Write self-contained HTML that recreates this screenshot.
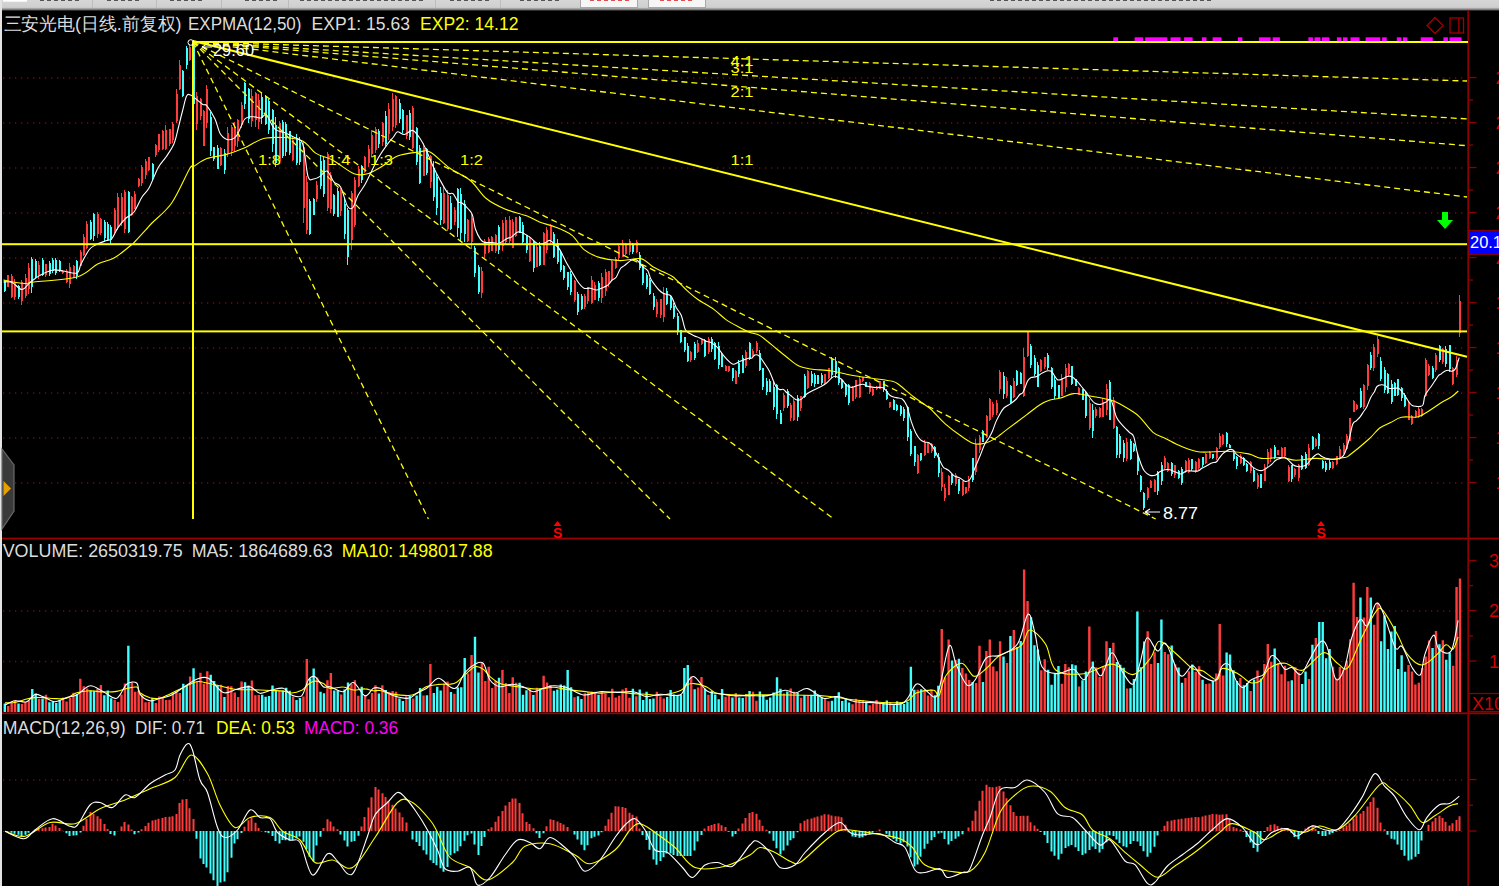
<!DOCTYPE html>
<html><head><meta charset="utf-8"><style>
html,body{margin:0;padding:0;background:#000;width:1499px;height:886px;overflow:hidden;position:relative}
</style></head><body>
<svg width="1499" height="886" viewBox="0 0 1499 886" style="position:absolute;left:0;top:0"><defs><linearGradient id="tb" x1="0" y1="0" x2="0" y2="1"><stop offset="0" stop-color="#d6d6d6"/><stop offset="0.7" stop-color="#cfcfcf"/><stop offset="1" stop-color="#5a5a5a"/></linearGradient></defs><rect x="0" y="0" width="1499" height="886" fill="#000"/><rect x="0" y="0" width="1499" height="10.5" fill="url(#tb)"/><rect x="3" y="0" width="24" height="1.7" fill="#fff"/><rect x="580.5" y="-1" width="57" height="8.5" fill="#f6f6f6" stroke="#a8a8a8" stroke-width="1"/><rect x="648.5" y="-1" width="57" height="8.5" fill="#f6f6f6" stroke="#a8a8a8" stroke-width="1"/><rect x="92" y="0" width="1" height="8" fill="#bcbcbc"/><rect x="156" y="0" width="1" height="8" fill="#bcbcbc"/><rect x="221" y="0" width="1" height="8" fill="#bcbcbc"/><rect x="288" y="0" width="1" height="8" fill="#bcbcbc"/><rect x="435" y="0" width="1" height="8" fill="#bcbcbc"/><rect x="500" y="0" width="1" height="8" fill="#bcbcbc"/><rect x="40" y="0" width="4" height="1" fill="#555"/><rect x="47" y="0" width="4" height="1" fill="#555"/><rect x="54" y="0" width="4" height="1" fill="#555"/><rect x="61" y="0" width="4" height="1" fill="#555"/><rect x="68" y="0" width="4" height="1" fill="#555"/><rect x="75" y="0" width="4" height="1" fill="#555"/><rect x="107" y="0" width="4" height="1" fill="#555"/><rect x="114" y="0" width="4" height="1" fill="#555"/><rect x="121" y="0" width="4" height="1" fill="#555"/><rect x="128" y="0" width="4" height="1" fill="#555"/><rect x="135" y="0" width="4" height="1" fill="#555"/><rect x="170" y="0" width="4" height="1" fill="#555"/><rect x="177" y="0" width="4" height="1" fill="#555"/><rect x="184" y="0" width="4" height="1" fill="#555"/><rect x="191" y="0" width="4" height="1" fill="#555"/><rect x="198" y="0" width="4" height="1" fill="#555"/><rect x="245" y="0" width="4" height="1" fill="#555"/><rect x="252" y="0" width="4" height="1" fill="#555"/><rect x="259" y="0" width="4" height="1" fill="#555"/><rect x="266" y="0" width="4" height="1" fill="#555"/><rect x="273" y="0" width="4" height="1" fill="#555"/><rect x="300" y="0" width="4" height="1" fill="#555"/><rect x="307" y="0" width="4" height="1" fill="#555"/><rect x="314" y="0" width="4" height="1" fill="#555"/><rect x="321" y="0" width="4" height="1" fill="#555"/><rect x="328" y="0" width="4" height="1" fill="#555"/><rect x="335" y="0" width="4" height="1" fill="#555"/><rect x="342" y="0" width="4" height="1" fill="#555"/><rect x="349" y="0" width="4" height="1" fill="#555"/><rect x="356" y="0" width="4" height="1" fill="#555"/><rect x="363" y="0" width="4" height="1" fill="#555"/><rect x="370" y="0" width="4" height="1" fill="#555"/><rect x="377" y="0" width="4" height="1" fill="#555"/><rect x="384" y="0" width="4" height="1" fill="#555"/><rect x="391" y="0" width="4" height="1" fill="#555"/><rect x="398" y="0" width="4" height="1" fill="#555"/><rect x="405" y="0" width="4" height="1" fill="#555"/><rect x="412" y="0" width="4" height="1" fill="#555"/><rect x="419" y="0" width="4" height="1" fill="#555"/><rect x="450" y="0" width="4" height="1" fill="#555"/><rect x="457" y="0" width="4" height="1" fill="#555"/><rect x="464" y="0" width="4" height="1" fill="#555"/><rect x="471" y="0" width="4" height="1" fill="#555"/><rect x="478" y="0" width="4" height="1" fill="#555"/><rect x="485" y="0" width="4" height="1" fill="#555"/><rect x="520" y="0" width="4" height="1" fill="#555"/><rect x="527" y="0" width="4" height="1" fill="#555"/><rect x="534" y="0" width="4" height="1" fill="#555"/><rect x="541" y="0" width="4" height="1" fill="#555"/><rect x="548" y="0" width="4" height="1" fill="#555"/><rect x="555" y="0" width="4" height="1" fill="#555"/><rect x="990" y="0" width="4" height="1" fill="#555"/><rect x="997" y="0" width="4" height="1" fill="#555"/><rect x="1004" y="0" width="4" height="1" fill="#555"/><rect x="1011" y="0" width="4" height="1" fill="#555"/><rect x="1018" y="0" width="4" height="1" fill="#555"/><rect x="1025" y="0" width="4" height="1" fill="#555"/><rect x="1032" y="0" width="4" height="1" fill="#555"/><rect x="1039" y="0" width="4" height="1" fill="#555"/><rect x="1046" y="0" width="4" height="1" fill="#555"/><rect x="1053" y="0" width="4" height="1" fill="#555"/><rect x="1060" y="0" width="4" height="1" fill="#555"/><rect x="1067" y="0" width="4" height="1" fill="#555"/><rect x="1074" y="0" width="4" height="1" fill="#555"/><rect x="1081" y="0" width="4" height="1" fill="#555"/><rect x="1088" y="0" width="4" height="1" fill="#555"/><rect x="1095" y="0" width="4" height="1" fill="#555"/><rect x="1102" y="0" width="4" height="1" fill="#555"/><rect x="1109" y="0" width="4" height="1" fill="#555"/><rect x="1116" y="0" width="4" height="1" fill="#555"/><rect x="1123" y="0" width="4" height="1" fill="#555"/><rect x="1130" y="0" width="4" height="1" fill="#555"/><rect x="1137" y="0" width="4" height="1" fill="#555"/><rect x="1144" y="0" width="4" height="1" fill="#555"/><rect x="1151" y="0" width="4" height="1" fill="#555"/><rect x="1158" y="0" width="4" height="1" fill="#555"/><rect x="1165" y="0" width="4" height="1" fill="#555"/><rect x="1172" y="0" width="4" height="1" fill="#555"/><rect x="1179" y="0" width="4" height="1" fill="#555"/><rect x="1186" y="0" width="4" height="1" fill="#555"/><rect x="1193" y="0" width="4" height="1" fill="#555"/><rect x="1200" y="0" width="4" height="1" fill="#555"/><rect x="1207" y="0" width="4" height="1" fill="#555"/><rect x="590" y="0" width="4" height="1" fill="#e05050"/><rect x="597" y="0" width="4" height="1" fill="#e05050"/><rect x="604" y="0" width="4" height="1" fill="#e05050"/><rect x="611" y="0" width="4" height="1" fill="#e05050"/><rect x="618" y="0" width="4" height="1" fill="#e05050"/><rect x="625" y="0" width="4" height="1" fill="#e05050"/><rect x="660" y="0" width="4" height="1" fill="#e05050"/><rect x="667" y="0" width="4" height="1" fill="#e05050"/><rect x="674" y="0" width="4" height="1" fill="#e05050"/><rect x="681" y="0" width="4" height="1" fill="#e05050"/><rect x="688" y="0" width="4" height="1" fill="#e05050"/><rect x="0" y="0" width="2" height="886" fill="#e4e4e4"/><line x1="3" y1="78.0" x2="1466" y2="78.0" stroke="#8c0000" stroke-width="1.3" stroke-dasharray="1.3 4.7"/><line x1="3" y1="123.0" x2="1466" y2="123.0" stroke="#8c0000" stroke-width="1.3" stroke-dasharray="1.3 4.7"/><line x1="3" y1="168.0" x2="1466" y2="168.0" stroke="#8c0000" stroke-width="1.3" stroke-dasharray="1.3 4.7"/><line x1="3" y1="213.0" x2="1466" y2="213.0" stroke="#8c0000" stroke-width="1.3" stroke-dasharray="1.3 4.7"/><line x1="3" y1="258.0" x2="1466" y2="258.0" stroke="#8c0000" stroke-width="1.3" stroke-dasharray="1.3 4.7"/><line x1="3" y1="303.0" x2="1466" y2="303.0" stroke="#8c0000" stroke-width="1.3" stroke-dasharray="1.3 4.7"/><line x1="3" y1="348.0" x2="1466" y2="348.0" stroke="#8c0000" stroke-width="1.3" stroke-dasharray="1.3 4.7"/><line x1="3" y1="393.0" x2="1466" y2="393.0" stroke="#8c0000" stroke-width="1.3" stroke-dasharray="1.3 4.7"/><line x1="3" y1="438.0" x2="1466" y2="438.0" stroke="#8c0000" stroke-width="1.3" stroke-dasharray="1.3 4.7"/><line x1="3" y1="483.0" x2="1466" y2="483.0" stroke="#8c0000" stroke-width="1.3" stroke-dasharray="1.3 4.7"/><line x1="3" y1="611.0" x2="1466" y2="611.0" stroke="#8c0000" stroke-width="1.3" stroke-dasharray="1.3 4.7"/><line x1="3" y1="661.5" x2="1466" y2="661.5" stroke="#8c0000" stroke-width="1.3" stroke-dasharray="1.3 4.7"/><line x1="3" y1="780.0" x2="1466" y2="780.0" stroke="#8c0000" stroke-width="1.3" stroke-dasharray="1.3 4.7"/><line x1="3" y1="831.5" x2="1466" y2="831.5" stroke="#8c0000" stroke-width="1" stroke-dasharray="1.3 4.7"/><rect x="2" y="537.6" width="1497" height="1.8" fill="#9a0000"/><rect x="2" y="712.4" width="1497" height="1.8" fill="#9a0000"/><rect x="1467.3" y="10" width="1.8" height="876" fill="#8c0000"/><rect x="1469" y="76.9" width="7.5" height="1.3" fill="#8c0000"/><text x="1495.5" y="84.0" font-family='"Liberation Sans", sans-serif' font-size="18" fill="#d00000">2</text><rect x="1469" y="99.4" width="4" height="1.3" fill="#8c0000"/><rect x="1469" y="121.9" width="7.5" height="1.3" fill="#8c0000"/><text x="1495.5" y="129.0" font-family='"Liberation Sans", sans-serif' font-size="18" fill="#d00000">2</text><rect x="1469" y="144.4" width="4" height="1.3" fill="#8c0000"/><rect x="1469" y="166.9" width="7.5" height="1.3" fill="#8c0000"/><text x="1495.5" y="174.0" font-family='"Liberation Sans", sans-serif' font-size="18" fill="#d00000">2</text><rect x="1469" y="189.4" width="4" height="1.3" fill="#8c0000"/><rect x="1469" y="211.9" width="7.5" height="1.3" fill="#8c0000"/><text x="1495.5" y="219.0" font-family='"Liberation Sans", sans-serif' font-size="18" fill="#d00000">2</text><rect x="1469" y="234.4" width="4" height="1.3" fill="#8c0000"/><rect x="1469" y="256.9" width="7.5" height="1.3" fill="#8c0000"/><text x="1495.5" y="264.0" font-family='"Liberation Sans", sans-serif' font-size="18" fill="#d00000">2</text><rect x="1469" y="279.4" width="4" height="1.3" fill="#8c0000"/><rect x="1469" y="301.9" width="7.5" height="1.3" fill="#8c0000"/><text x="1495.5" y="309.0" font-family='"Liberation Sans", sans-serif' font-size="18" fill="#d00000">1</text><rect x="1469" y="324.4" width="4" height="1.3" fill="#8c0000"/><rect x="1469" y="346.9" width="7.5" height="1.3" fill="#8c0000"/><text x="1495.5" y="354.0" font-family='"Liberation Sans", sans-serif' font-size="18" fill="#d00000">1</text><rect x="1469" y="369.4" width="4" height="1.3" fill="#8c0000"/><rect x="1469" y="391.9" width="7.5" height="1.3" fill="#8c0000"/><text x="1495.5" y="399.0" font-family='"Liberation Sans", sans-serif' font-size="18" fill="#d00000">1</text><rect x="1469" y="414.4" width="4" height="1.3" fill="#8c0000"/><rect x="1469" y="436.9" width="7.5" height="1.3" fill="#8c0000"/><text x="1495.5" y="444.0" font-family='"Liberation Sans", sans-serif' font-size="18" fill="#d00000">1</text><rect x="1469" y="459.4" width="4" height="1.3" fill="#8c0000"/><rect x="1469" y="481.9" width="7.5" height="1.3" fill="#8c0000"/><text x="1495.5" y="489.0" font-family='"Liberation Sans", sans-serif' font-size="18" fill="#d00000">1</text><rect x="1469" y="559.9" width="7.5" height="1.3" fill="#8c0000"/><text x="1489" y="567.0" font-family='"Liberation Sans", sans-serif' font-size="18" fill="#d00000">3</text><rect x="1469" y="609.9" width="7.5" height="1.3" fill="#8c0000"/><text x="1489" y="617.0" font-family='"Liberation Sans", sans-serif' font-size="18" fill="#d00000">2</text><rect x="1469" y="660.4" width="7.5" height="1.3" fill="#8c0000"/><text x="1489" y="667.5" font-family='"Liberation Sans", sans-serif' font-size="18" fill="#d00000">1</text><rect x="1469" y="584.9" width="4" height="1.3" fill="#8c0000"/><rect x="1469" y="635.4" width="4" height="1.3" fill="#8c0000"/><rect x="1469" y="693.5" width="31" height="18" fill="#000" stroke="#8c0000" stroke-width="1.3"/><text x="1472" y="709.5" font-family='"Liberation Sans", sans-serif' font-size="18" fill="#d00000">X10</text><rect x="1469" y="778.9" width="7.5" height="1.3" fill="#8c0000"/><rect x="1469" y="830.4" width="7.5" height="1.3" fill="#8c0000"/><rect x="1469" y="804.6" width="4" height="1.3" fill="#8c0000"/><g shape-rendering="crispEdges"><path d="M7.5 275.0V287.3M11.5 274.3V298.0M14.5 278.7V300.1M21.5 280.0V305.2M25.5 274.2V297.9M28.5 263.1V293.9M38.5 261.0V279.0M45.5 264.4V277.2M62.5 270.3V273.7M66.5 268.6V283.0M69.5 262.6V287.7M73.5 265.1V277.7M80.5 249.7V266.1M83.5 234.1V256.4M86.5 221.4V248.5M97.5 212.3V237.9M100.5 218.3V234.7M114.5 208.0V235.0M117.5 192.5V229.9M121.5 193.1V225.7M124.5 190.4V233.0M131.5 195.6V216.0M134.5 190.8V208.8M138.5 178.2V186.9M141.5 165.0V185.8M145.5 158.8V178.6M148.5 156.5V171.0M155.5 143.9V157.3M158.5 133.7V151.9M162.5 129.6V150.3M165.5 125.2V150.0M169.5 128.6V145.5M172.5 122.4V142.8M176.5 89.4V122.9M179.5 59.5V90.4M189.5 44.4V60.7M196.5 91.5V130.1M200.5 98.1V119.5M203.5 109.9V146.4M206.5 84.6V128.3M220.5 147.1V166.4M227.5 127.2V157.3M231.5 125.1V155.7M234.5 122.3V151.5M237.5 118.9V146.7M241.5 101.5V128.1M251.5 88.8V126.8M255.5 91.8V127.0M258.5 93.6V129.2M279.5 121.1V162.4M292.5 135.9V160.7M303.5 140.6V223.1M306.5 175.8V233.9M316.5 181.1V202.4M327.5 152.4V211.1M330.5 172.1V212.8M340.5 188.4V216.1M351.5 190.5V250.3M354.5 177.4V226.9M358.5 165.6V187.2M364.5 155.8V173.3M368.5 144.6V167.0M371.5 129.5V157.1M375.5 126.9V152.7M382.5 121.9V145.7M388.5 103.2V139.5M392.5 93.3V131.2M395.5 94.6V127.7M406.5 115.0V139.0M412.5 106.1V149.1M423.5 143.4V176.0M430.5 155.2V187.7M443.5 186.2V223.9M447.5 189.7V231.3M454.5 207.0V225.2M467.5 218.5V241.7M471.5 214.0V248.8M481.5 267.2V298.0M484.5 238.7V257.9M488.5 237.1V252.5M491.5 235.6V250.6M495.5 234.1V253.3M502.5 220.3V251.0M505.5 216.8V245.4M509.5 216.3V243.4M512.5 218.5V248.1M515.5 216.7V236.9M529.5 236.4V262.1M536.5 244.8V266.9M543.5 231.6V265.3M546.5 227.3V253.0M550.5 224.0V243.5M574.5 280.2V301.9M584.5 293.6V309.0M587.5 286.7V303.9M591.5 276.0V304.2M594.5 281.5V300.0M601.5 272.9V303.1M605.5 269.3V296.0M608.5 271.0V286.5M611.5 259.8V281.3M615.5 256.9V268.9M618.5 243.6V260.1M622.5 239.9V257.0M625.5 243.1V255.3M629.5 238.6V254.7M636.5 240.0V252.9M656.5 299.4V317.3M660.5 299.0V317.9M663.5 287.2V321.9M690.5 351.0V361.5M697.5 340.0V352.8M701.5 338.8V344.7M708.5 336.7V353.8M725.5 364.8V371.1M728.5 365.5V372.3M735.5 370.3V384.2M745.5 349.5V367.9M752.5 349.4V358.1M756.5 340.9V353.0M783.5 392.8V410.6M790.5 403.1V420.8M793.5 398.8V421.0M800.5 396.0V410.9M807.5 370.2V388.5M824.5 373.8V385.1M828.5 367.6V379.4M852.5 386.1V401.2M855.5 379.5V398.9M859.5 376.0V397.6M862.5 377.0V381.9M869.5 381.5V393.9M872.5 388.4V395.9M876.5 386.2V389.7M879.5 380.8V389.3M889.5 401.6V408.1M917.5 454.3V473.5M924.5 439.6V455.9M927.5 442.9V453.4M931.5 442.9V452.6M941.5 468.1V490.7M944.5 484.4V500.6M948.5 474.5V494.7M955.5 473.4V486.4M962.5 480.6V495.8M965.5 486.7V494.1M968.5 476.4V491.2M975.5 439.2V475.3M979.5 435.3V453.3M986.5 414.5V438.4M989.5 397.5V420.7M992.5 401.5V417.0M996.5 400.0V414.7M999.5 369.6V393.9M1006.5 376.9V397.7M1013.5 377.8V398.4M1023.5 348.3V397.2M1027.5 331.2V357.4M1040.5 358.7V372.3M1044.5 357.2V369.3M1061.5 373.8V396.3M1065.5 364.1V392.0M1068.5 362.6V375.5M1078.5 386.5V395.3M1089.5 399.1V430.0M1095.5 406.9V418.4M1099.5 407.4V417.8M1102.5 398.2V417.4M1106.5 383.8V414.5M1113.5 396.5V429.4M1126.5 438.3V461.3M1147.5 486.7V499.6M1150.5 479.7V488.4M1154.5 479.3V492.2M1164.5 455.9V469.1M1167.5 462.1V472.3M1174.5 465.1V477.6M1185.5 459.5V473.0M1188.5 458.1V472.5M1195.5 460.5V472.5M1198.5 457.7V469.7M1205.5 452.7V464.2M1209.5 451.2V458.6M1216.5 446.9V460.2M1219.5 433.0V449.1M1222.5 433.8V444.6M1240.5 454.4V464.3M1250.5 461.3V473.0M1257.5 473.2V488.5M1264.5 464.4V480.7M1267.5 448.5V467.8M1270.5 447.6V461.7M1277.5 449.6V455.0M1281.5 446.7V457.5M1284.5 446.6V458.0M1288.5 465.0V482.3M1294.5 467.7V477.0M1298.5 464.4V480.7M1308.5 444.2V465.5M1315.5 437.9V447.1M1332.5 461.3V468.8M1336.5 455.7V465.0M1339.5 446.1V459.6M1343.5 442.8V454.4M1346.5 433.7V449.6M1349.5 417.9V441.4M1353.5 400.3V412.1M1356.5 404.1V409.7M1363.5 383.8V408.8M1367.5 364.4V390.3M1373.5 344.0V370.8M1377.5 335.5V357.2M1408.5 401.3V419.7M1411.5 415.2V424.7M1415.5 409.5V417.9M1418.5 406.4V417.8M1421.5 407.9V416.7M1425.5 358.1V396.9M1428.5 363.7V376.1M1435.5 352.8V372.0M1442.5 348.3V363.5M1452.5 366.8V385.0M1456.5 355.6V377.4M1459.5 294.7V337.4" stroke="#ff3c3c" stroke-width="1" fill="none"/><path d="M8.0 275.4V286.8M12.0 275.9V296.8M15.0 281.8V296.8M22.0 281.7V301.0M26.0 277.6V295.6M29.0 267.8V289.0M39.0 264.6V275.4M46.0 264.4V275.2M63.0 270.5V273.3M67.0 271.1V281.7M70.0 267.1V283.9M74.0 265.8V277.6M81.0 251.6V265.6M84.0 237.2V255.0M87.0 223.5V247.9M98.0 214.0V233.8M101.0 218.5V233.0M115.0 209.6V232.8M118.0 197.4V227.2M122.0 197.3V223.0M125.0 191.8V229.0M132.0 197.3V214.6M135.0 193.7V208.6M139.0 178.8V185.9M142.0 167.3V183.2M146.0 161.1V174.8M149.0 157.1V169.5M156.0 145.4V154.8M159.0 134.1V149.9M163.0 130.7V148.6M166.0 129.8V148.9M170.0 129.1V144.1M173.0 123.5V139.7M177.0 94.2V121.2M180.0 64.7V89.0M190.0 46.8V60.2M197.0 96.4V124.2M201.0 98.7V116.0M204.0 111.1V146.2M207.0 88.8V122.7M221.0 148.1V164.9M228.0 133.1V153.9M232.0 127.2V150.5M235.0 127.0V145.9M238.0 120.3V141.2M242.0 104.7V124.7M252.0 95.8V120.7M256.0 93.3V120.1M259.0 99.6V122.1M280.0 123.2V161.3M293.0 139.9V159.5M304.0 146.7V207.8M307.0 181.7V229.5M317.0 184.8V198.6M328.0 154.0V207.7M331.0 174.6V208.7M341.0 191.6V211.1M352.0 193.4V240.1M355.0 180.1V225.0M359.0 169.0V186.3M365.0 157.1V171.9M369.0 148.7V163.1M372.0 134.9V154.0M376.0 128.9V149.6M383.0 123.1V141.7M389.0 108.8V134.4M393.0 99.3V127.3M396.0 95.5V124.5M407.0 115.1V135.5M413.0 108.4V148.4M424.0 147.9V175.9M431.0 156.4V182.4M444.0 193.2V223.4M448.0 194.6V229.1M455.0 210.2V221.9M468.0 220.0V240.8M472.0 218.4V242.0M482.0 271.0V293.3M485.0 240.6V254.3M489.0 239.1V252.4M492.0 237.4V250.5M496.0 235.0V251.2M503.0 222.8V246.0M506.0 219.9V242.0M510.0 219.6V240.6M513.0 221.7V248.1M516.0 217.3V235.7M530.0 237.3V260.5M537.0 247.0V266.8M544.0 233.4V264.6M547.0 230.3V250.2M551.0 224.9V239.6M575.0 280.5V299.9M585.0 295.8V306.9M588.0 286.9V300.9M592.0 279.5V302.7M595.0 284.8V299.8M602.0 277.3V297.6M606.0 271.9V291.1M609.0 271.1V283.9M612.0 260.6V278.5M616.0 259.2V267.7M619.0 246.4V257.9M623.0 242.8V257.0M626.0 244.3V253.7M630.0 240.9V251.7M637.0 241.6V251.9M657.0 301.9V314.3M661.0 299.4V315.3M664.0 293.1V316.8M691.0 351.8V359.8M698.0 342.5V351.5M702.0 338.9V344.3M709.0 338.9V351.9M726.0 365.8V370.8M729.0 365.6V371.0M736.0 370.9V383.6M746.0 352.0V366.3M753.0 350.8V357.3M757.0 343.1V350.7M784.0 394.8V408.4M791.0 405.0V417.5M794.0 401.2V420.3M801.0 396.2V408.4M808.0 371.0V388.2M825.0 374.2V384.4M829.0 367.8V378.0M853.0 388.1V400.8M856.0 380.4V396.7M860.0 378.9V397.1M863.0 377.4V381.4M870.0 383.2V392.2M873.0 388.7V395.1M877.0 386.8V389.2M880.0 380.8V388.8M890.0 401.6V407.1M918.0 454.8V473.3M925.0 442.4V454.8M928.0 443.3V452.8M932.0 443.7V451.4M942.0 472.3V487.4M945.0 487.5V498.1M949.0 476.0V494.6M956.0 475.2V484.3M963.0 481.4V494.9M966.0 487.4V492.9M969.0 478.5V488.3M976.0 443.7V472.1M980.0 436.7V450.0M987.0 416.4V436.5M990.0 398.8V420.2M993.0 404.1V414.8M997.0 402.9V412.7M1000.0 372.0V389.4M1007.0 380.6V395.7M1014.0 381.4V396.7M1024.0 356.7V395.6M1028.0 332.3V356.0M1041.0 360.4V370.8M1045.0 357.3V367.0M1062.0 378.0V395.8M1066.0 367.6V387.1M1069.0 364.3V373.9M1079.0 387.7V394.7M1090.0 402.5V428.1M1096.0 408.9V416.3M1100.0 408.2V416.8M1103.0 401.6V416.7M1107.0 389.3V409.5M1114.0 400.0V428.1M1127.0 441.9V459.4M1148.0 488.2V497.9M1151.0 480.5V488.2M1155.0 480.2V491.5M1165.0 458.4V468.4M1168.0 462.7V471.3M1175.0 465.3V475.2M1186.0 460.9V472.0M1189.0 460.2V471.7M1196.0 462.2V472.0M1199.0 458.5V468.4M1206.0 454.2V463.4M1210.0 451.7V458.3M1217.0 448.3V458.0M1220.0 435.6V446.8M1223.0 435.1V444.1M1241.0 456.3V463.1M1251.0 462.4V470.9M1258.0 474.7V486.7M1265.0 467.1V480.6M1268.0 452.0V464.2M1271.0 448.9V459.2M1278.0 450.4V454.8M1282.0 447.6V457.1M1285.0 447.3V455.8M1289.0 467.2V481.1M1295.0 469.4V475.1M1299.0 464.5V478.1M1309.0 448.2V464.9M1316.0 439.2V446.2M1333.0 462.4V468.0M1337.0 456.0V463.9M1340.0 448.5V457.6M1344.0 445.0V453.8M1347.0 436.4V449.1M1350.0 418.0V441.2M1354.0 400.8V411.5M1357.0 405.0V409.1M1364.0 384.5V407.4M1368.0 365.4V386.4M1374.0 347.0V367.7M1378.0 338.5V353.6M1409.0 403.4V419.6M1412.0 415.5V423.9M1416.0 410.5V416.7M1419.0 408.5V416.9M1422.0 408.6V416.4M1426.0 360.2V395.5M1429.0 365.7V374.6M1436.0 354.6V369.5M1443.0 348.5V361.6M1453.0 368.1V384.1M1457.0 359.9V375.1M1460.0 300.7V333.2" stroke="#ff3c3c" stroke-width="2" fill="none"/><path d="M4.5 280.0V292.2M18.5 285.3V299.3M31.5 257.2V292.9M35.5 259.2V277.5M42.5 258.0V275.6M49.5 261.0V276.3M52.5 257.5V272.7M55.5 257.7V274.5M59.5 260.4V272.4M76.5 259.9V278.5M90.5 219.6V239.6M93.5 212.9V241.3M104.5 219.6V240.5M107.5 221.9V240.5M110.5 225.1V243.5M128.5 191.4V232.7M152.5 163.3V179.5M182.5 70.2V96.6M186.5 45.7V68.9M193.5 40.1V116.0M210.5 111.9V155.6M213.5 146.8V161.0M217.5 145.2V169.4M224.5 148.9V174.4M244.5 81.8V109.0M248.5 88.0V123.4M261.5 92.4V123.5M265.5 94.5V124.9M268.5 99.0V133.5M272.5 108.5V151.5M275.5 116.6V166.5M282.5 120.1V157.6M285.5 122.0V156.4M289.5 130.8V155.3M296.5 134.4V164.5M299.5 137.3V164.5M309.5 199.1V234.5M313.5 198.4V214.7M320.5 155.1V189.2M323.5 157.2V196.7M333.5 194.2V215.8M337.5 187.7V217.3M344.5 197.8V238.8M347.5 207.6V265.3M361.5 164.7V182.7M378.5 128.9V148.0M385.5 110.8V146.0M399.5 98.8V123.2M402.5 108.7V133.3M409.5 109.9V139.7M416.5 126.6V165.1M419.5 144.5V183.8M426.5 147.7V174.6M433.5 160.8V201.0M436.5 174.0V214.7M440.5 186.8V224.9M450.5 196.1V229.8M457.5 188.4V236.8M460.5 188.0V242.4M464.5 200.0V242.2M474.5 246.3V276.6M478.5 265.3V293.7M498.5 224.6V253.9M519.5 216.3V233.4M522.5 221.5V244.2M526.5 234.7V252.8M533.5 240.7V272.3M539.5 242.4V266.0M553.5 231.9V257.5M557.5 238.9V264.3M560.5 250.9V272.0M563.5 264.6V279.5M567.5 271.5V289.8M570.5 271.4V295.1M577.5 292.2V314.7M581.5 294.2V309.8M598.5 281.0V301.4M632.5 243.1V253.5M639.5 251.9V270.0M642.5 264.2V285.4M646.5 273.1V289.0M649.5 278.2V295.2M653.5 292.8V309.5M666.5 288.1V305.0M670.5 294.7V310.2M673.5 303.2V318.8M677.5 313.4V335.0M680.5 329.7V342.8M684.5 336.6V352.1M687.5 343.2V361.8M694.5 341.8V360.0M704.5 338.6V356.5M711.5 336.8V351.7M714.5 341.7V359.9M718.5 342.2V368.8M721.5 352.7V367.1M732.5 367.5V380.9M738.5 359.9V376.6M742.5 354.7V372.8M749.5 342.2V360.3M759.5 349.9V370.7M762.5 367.7V389.6M766.5 378.0V395.2M769.5 379.4V392.2M773.5 381.7V410.2M776.5 384.3V419.2M780.5 409.8V424.3M787.5 389.0V407.6M797.5 395.4V420.5M804.5 374.0V397.9M811.5 370.9V385.9M814.5 373.3V387.1M817.5 374.9V383.9M821.5 373.4V385.0M831.5 356.9V377.5M835.5 357.3V377.9M838.5 367.2V384.9M841.5 379.6V388.6M845.5 383.4V396.6M848.5 383.6V404.6M865.5 381.9V387.2M883.5 380.5V392.1M886.5 388.9V400.3M893.5 399.4V409.8M896.5 404.4V411.0M900.5 405.0V416.1M903.5 406.6V421.1M907.5 405.8V440.6M910.5 429.3V455.9M914.5 445.9V466.1M920.5 452.9V461.1M934.5 446.2V458.2M938.5 453.3V477.1M951.5 473.5V484.8M958.5 479.2V493.6M972.5 458.2V481.5M982.5 429.9V441.8M1003.5 372.3V398.9M1010.5 385.0V403.9M1016.5 369.8V385.8M1020.5 371.5V384.3M1030.5 343.6V367.6M1034.5 354.6V375.6M1037.5 362.1V386.7M1047.5 352.6V370.1M1051.5 366.5V389.1M1054.5 376.2V399.0M1058.5 384.8V398.9M1071.5 365.5V385.4M1075.5 378.7V386.2M1082.5 389.0V400.4M1085.5 390.5V418.0M1092.5 404.1V437.6M1109.5 379.6V420.1M1116.5 425.5V457.6M1119.5 434.2V457.6M1123.5 440.0V461.9M1130.5 439.3V460.4M1133.5 443.0V452.3M1137.5 453.7V475.3M1140.5 474.5V491.6M1143.5 492.3V510.0M1157.5 471.3V495.0M1161.5 461.9V484.9M1171.5 462.4V475.5M1178.5 469.9V478.5M1181.5 467.2V484.9M1191.5 458.6V470.7M1202.5 456.9V466.8M1212.5 453.8V458.9M1226.5 431.7V446.6M1229.5 444.3V448.1M1233.5 450.7V460.8M1236.5 456.1V468.5M1243.5 457.4V466.2M1246.5 462.6V472.2M1253.5 468.3V481.7M1260.5 473.6V488.4M1274.5 444.9V458.9M1291.5 465.1V482.1M1301.5 454.6V469.9M1305.5 452.0V469.2M1312.5 436.1V449.7M1318.5 432.6V448.8M1322.5 459.8V468.7M1325.5 461.2V471.6M1329.5 460.4V469.5M1360.5 387.6V408.4M1370.5 352.0V369.5M1380.5 357.0V381.2M1384.5 366.9V392.9M1387.5 373.3V393.5M1391.5 379.7V404.0M1394.5 382.1V395.9M1397.5 378.9V396.1M1401.5 386.8V400.8M1404.5 392.5V407.1M1432.5 365.7V378.6M1439.5 345.0V362.2M1445.5 345.9V367.0M1449.5 345.0V372.2" stroke="#40ffff" stroke-width="1" fill="none"/><path d="M5.0 280.9V290.8M19.0 286.1V296.9M32.0 258.8V286.5M36.0 260.5V277.3M43.0 260.3V275.4M50.0 263.1V273.7M53.0 260.4V270.8M56.0 260.4V273.2M60.0 261.4V271.0M77.0 261.1V276.3M91.0 222.4V238.6M94.0 214.1V236.3M105.0 222.3V237.6M108.0 223.6V239.9M111.0 227.1V240.3M129.0 191.9V232.0M153.0 163.6V177.0M183.0 70.6V95.7M187.0 48.4V65.3M194.0 46.1V103.6M211.0 117.4V151.3M214.0 147.3V159.4M218.0 147.5V169.4M225.0 152.6V169.5M245.0 83.1V104.0M249.0 89.0V118.5M262.0 97.4V117.6M266.0 95.8V123.6M269.0 100.7V130.2M273.0 110.0V143.7M276.0 124.9V163.1M283.0 121.6V155.5M286.0 124.2V151.5M290.0 131.1V152.6M297.0 138.2V163.0M300.0 142.2V161.8M310.0 200.5V233.7M314.0 199.4V214.6M321.0 160.8V185.9M324.0 160.0V194.4M334.0 195.0V213.5M338.0 190.6V216.5M345.0 204.0V234.4M348.0 210.4V257.0M362.0 165.7V180.2M379.0 130.5V144.3M386.0 116.4V144.0M400.0 103.4V118.8M403.0 110.2V130.1M410.0 113.4V137.3M417.0 128.4V161.8M420.0 147.8V182.6M427.0 148.7V173.1M434.0 168.4V197.2M437.0 176.7V207.8M441.0 192.6V219.9M451.0 202.6V229.4M458.0 189.0V228.2M461.0 193.5V232.6M465.0 204.0V233.9M475.0 247.8V272.5M479.0 266.8V291.6M499.0 227.0V249.9M520.0 217.1V232.7M523.0 224.7V242.2M527.0 235.2V250.4M534.0 242.0V268.0M540.0 245.7V265.2M554.0 233.9V256.8M558.0 242.9V261.7M561.0 252.8V269.5M564.0 266.0V278.2M568.0 271.6V286.8M571.0 274.0V291.8M578.0 293.8V312.3M582.0 296.4V309.0M599.0 283.3V297.9M633.0 243.5V252.4M640.0 255.2V268.2M643.0 264.6V282.7M647.0 275.4V286.8M650.0 279.9V293.6M654.0 295.7V307.1M667.0 291.3V303.6M671.0 297.1V307.8M674.0 305.5V317.2M678.0 315.5V331.0M681.0 330.3V342.0M685.0 337.1V349.5M688.0 346.3V360.5M695.0 344.1V358.4M705.0 339.8V356.0M712.0 338.9V349.0M715.0 342.5V358.9M719.0 345.6V364.9M722.0 354.7V367.0M733.0 367.8V378.3M739.0 362.9V374.1M743.0 358.2V372.7M750.0 343.2V358.7M760.0 352.5V370.2M763.0 368.3V387.2M767.0 380.9V391.7M770.0 381.2V392.2M774.0 386.9V406.8M777.0 385.2V414.3M781.0 412.6V423.5M788.0 391.2V406.4M798.0 398.3V416.7M805.0 376.3V396.8M812.0 373.5V383.4M815.0 374.5V384.3M818.0 375.3V383.9M822.0 375.3V383.2M832.0 359.1V374.9M836.0 360.8V374.4M839.0 368.4V383.4M842.0 379.9V387.5M846.0 384.4V394.8M849.0 384.9V403.1M866.0 382.3V387.1M884.0 381.0V390.1M887.0 390.5V398.6M894.0 399.7V409.5M897.0 405.0V410.2M901.0 405.5V414.2M904.0 408.7V418.3M908.0 406.8V437.3M911.0 431.2V453.8M915.0 446.3V462.4M921.0 452.9V459.8M935.0 446.8V456.4M939.0 456.8V472.7M952.0 473.9V482.7M959.0 479.4V491.4M973.0 458.3V479.5M983.0 431.1V441.5M1004.0 375.6V394.2M1011.0 385.8V402.6M1017.0 371.1V385.0M1021.0 373.4V384.3M1031.0 345.7V364.8M1035.0 357.8V373.6M1038.0 365.4V386.5M1048.0 354.7V368.4M1052.0 367.5V386.8M1055.0 380.1V395.9M1059.0 385.1V398.0M1072.0 365.7V384.3M1076.0 379.1V385.8M1083.0 389.1V400.3M1086.0 392.7V415.6M1093.0 409.5V431.4M1110.0 382.1V420.1M1117.0 426.7V455.1M1120.0 436.1V454.2M1124.0 443.0V458.4M1131.0 440.7V458.8M1134.0 444.0V451.4M1138.0 456.2V471.4M1141.0 475.7V489.7M1144.0 493.0V508.0M1158.0 472.2V490.6M1162.0 465.1V480.5M1172.0 463.4V474.4M1179.0 471.4V477.5M1182.0 468.5V482.8M1192.0 459.4V468.7M1203.0 457.2V465.3M1213.0 454.0V458.3M1227.0 433.0V444.0M1230.0 444.9V447.5M1234.0 452.5V459.1M1237.0 456.7V466.3M1244.0 458.4V464.7M1247.0 464.1V470.5M1254.0 469.5V480.5M1261.0 473.7V487.7M1275.0 447.4V457.8M1292.0 465.4V479.2M1302.0 455.5V469.3M1306.0 453.7V468.2M1313.0 437.1V449.3M1319.0 434.1V445.8M1323.0 460.9V467.8M1326.0 463.0V470.4M1330.0 462.0V468.3M1361.0 391.3V406.9M1371.0 355.3V367.6M1381.0 361.0V379.0M1385.0 369.5V390.4M1388.0 373.9V393.2M1392.0 383.7V401.9M1395.0 382.6V395.8M1398.0 379.0V394.6M1402.0 388.4V398.2M1405.0 394.7V405.9M1433.0 367.7V378.4M1440.0 345.8V360.4M1446.0 348.5V364.3M1450.0 345.2V369.2" stroke="#40ffff" stroke-width="2" fill="none"/></g><path d="M8.23 705.9V712M11.66 702.9V712M15.10 699.9V712M21.96 704.0V712M25.39 701.9V712M28.82 700.6V712M39.12 698.7V712M45.98 694.7V712M63.15 697.6V712M66.58 701.4V712M70.01 697.9V712M73.44 692.7V712M80.31 678.7V712M83.74 686.3V712M87.17 688.5V712M97.47 688.9V712M100.90 685.1V712M114.63 699.8V712M118.06 702.1V712M121.49 694.5V712M124.92 683.6V712M131.79 682.2V712M135.22 691.7V712M138.65 690.6V712M142.08 695.2V712M145.52 702.3V712M148.95 701.7V712M155.81 703.1V712M159.24 696.5V712M162.68 696.9V712M166.11 700.0V712M169.54 699.8V712M172.97 693.0V712M176.40 691.9V712M179.84 692.9V712M190.13 676.6V712M197.00 681.5V712M200.43 672.7V712M203.86 683.7V712M207.29 671.3V712M221.02 684.8V712M227.88 686.0V712M231.32 686.2V712M234.75 692.6V712M238.18 697.1V712M241.61 681.4V712M251.91 680.5V712M255.34 695.2V712M258.77 695.0V712M279.37 690.9V712M293.09 696.6V712M303.39 696.5V712M306.82 659.0V712M317.12 677.4V712M327.42 680.2V712M330.85 673.0V712M341.14 694.4V712M351.44 684.1V712M354.87 680.2V712M358.30 695.8V712M365.17 694.9V712M368.60 699.3V712M372.03 693.1V712M375.46 685.2V712M382.33 685.2V712M389.19 691.8V712M392.62 691.1V712M396.06 691.8V712M406.35 696.3V712M413.22 698.6V712M423.51 695.5V712M430.38 664.0V712M444.11 683.6V712M447.54 681.5V712M454.40 693.8V712M468.13 673.5V712M471.56 655.0V712M481.86 662.9V712M485.29 681.1V712M488.72 666.8V712M492.15 688.1V712M495.59 680.9V712M502.45 670.0V712M505.88 682.9V712M509.32 693.1V712M512.75 677.3V712M516.18 682.8V712M529.91 688.8V712M536.77 687.8V712M543.64 675.8V712M547.07 682.4V712M550.50 684.9V712M574.52 697.3V712M584.82 693.2V712M588.25 692.1V712M591.68 691.5V712M595.12 691.7V712M601.98 692.2V712M605.41 693.4V712M608.85 697.2V712M612.28 688.8V712M615.71 697.6V712M619.14 695.7V712M622.57 689.6V712M626.01 687.9V712M629.44 697.7V712M636.30 696.3V712M656.89 691.7V712M660.33 696.6V712M663.76 698.6V712M691.22 676.4V712M698.08 687.5V712M701.51 677.0V712M708.38 694.8V712M725.54 696.7V712M728.97 695.8V712M735.83 692.9V712M746.13 696.6V712M752.99 691.7V712M756.42 700.8V712M783.88 693.6V712M790.75 688.5V712M794.18 691.8V712M801.04 697.7V712M807.91 694.9V712M825.07 697.9V712M828.50 701.2V712M852.52 704.2V712M855.95 698.8V712M859.39 700.3V712M862.82 700.3V712M869.68 705.3V712M873.12 703.7V712M876.55 700.0V712M879.98 703.2V712M890.28 702.1V712M917.73 689.8V712M924.60 690.0V712M928.03 695.6V712M931.46 689.6V712M941.76 629.0V712M945.19 677.2V712M948.62 639.6V712M955.48 659.9V712M962.35 668.0V712M965.78 673.5V712M969.21 680.0V712M976.08 683.1V712M979.51 645.7V712M986.37 651.0V712M989.81 639.6V712M993.24 666.5V712M996.67 671.3V712M1000.10 641.3V712M1006.97 663.0V712M1013.83 630.0V712M1024.13 569.6V712M1027.56 601.0V712M1041.29 670.2V712M1044.72 659.3V712M1061.88 683.8V712M1065.31 663.9V712M1068.74 667.3V712M1079.04 686.6V712M1089.34 626.5V712M1096.20 667.2V712M1099.63 676.9V712M1103.06 666.5V712M1106.50 641.3V712M1113.36 642.7V712M1127.09 688.4V712M1147.68 631.3V712M1151.11 664.0V712M1154.55 652.3V712M1164.84 652.1V712M1168.27 654.2V712M1175.14 664.3V712M1185.43 678.0V712M1188.87 671.2V712M1195.73 671.8V712M1199.16 666.2V712M1206.03 683.9V712M1209.46 683.4V712M1216.32 673.5V712M1219.75 623.9V712M1223.19 675.4V712M1240.35 678.0V712M1250.64 690.9V712M1257.51 670.5V712M1264.37 663.9V712M1267.80 644.0V712M1271.24 661.7V712M1278.10 662.9V712M1281.53 674.2V712M1284.96 665.8V712M1288.40 681.3V712M1295.26 667.3V712M1298.69 672.4V712M1308.99 678.9V712M1315.85 638.0V712M1333.01 666.8V712M1336.45 678.4V712M1339.88 667.1V712M1343.31 669.8V712M1346.74 660.8V712M1350.17 639.3V712M1353.61 582.7V712M1357.04 617.0V712M1363.90 617.6V712M1367.33 587.1V712M1374.20 624.7V712M1377.63 602.7V712M1408.52 665.0V712M1411.95 671.4V712M1415.38 684.5V712M1418.82 682.7V712M1422.25 668.0V712M1425.68 656.5V712M1429.11 640.6V712M1435.98 631.1V712M1442.84 640.2V712M1453.14 665.7V712M1456.57 587.0V712M1460.00 578.4V712" stroke="#ff3c3c" stroke-width="2.4" fill="none"/><path d="M4.80 703.4V712M18.53 703.6V712M32.26 689.0V712M35.69 693.4V712M42.55 698.4V712M49.42 702.2V712M52.85 702.1V712M56.28 703.0V712M59.71 699.8V712M76.87 693.9V712M90.60 690.4V712M94.03 690.8V712M104.33 695.2V712M107.76 690.5V712M111.19 698.3V712M128.35 645.8V712M152.38 698.3V712M183.27 683.8V712M186.70 685.8V712M193.56 668.3V712M210.72 674.8V712M214.16 680.9V712M217.59 685.3V712M224.45 697.1V712M245.05 682.2V712M248.48 685.5V712M262.21 694.7V712M265.64 696.8V712M269.07 695.9V712M272.50 685.4V712M275.93 689.9V712M282.80 690.5V712M286.23 687.7V712M289.66 690.7V712M296.53 700.0V712M299.96 697.9V712M310.25 678.4V712M313.69 668.4V712M320.55 691.8V712M323.98 693.2V712M334.28 690.5V712M337.71 690.5V712M344.58 689.4V712M348.01 682.4V712M361.74 686.8V712M378.90 693.4V712M385.76 690.1V712M399.49 698.6V712M402.92 701.0V712M409.78 696.0V712M416.65 695.4V712M420.08 687.9V712M426.95 695.3V712M433.81 692.9V712M437.24 686.7V712M440.67 690.4V712M450.97 691.9V712M457.83 687.5V712M461.27 687.3V712M464.70 658.0V712M474.99 636.7V712M478.43 672.5V712M499.02 677.7V712M519.61 682.8V712M523.04 694.7V712M526.48 690.3V712M533.34 695.1V712M540.20 689.2V712M553.93 690.8V712M557.36 689.4V712M560.80 684.5V712M564.23 685.4V712M567.66 670.0V712M571.09 687.2V712M577.96 696.2V712M581.39 699.0V712M598.55 694.8V712M632.87 688.7V712M639.73 689.4V712M643.17 699.9V712M646.60 691.8V712M650.03 698.9V712M653.46 698.6V712M667.19 697.1V712M670.62 690.1V712M674.05 694.6V712M677.49 695.4V712M680.92 694.5V712M684.35 668.0V712M687.78 665.0V712M694.65 689.2V712M704.94 688.6V712M711.81 690.9V712M715.24 694.5V712M718.67 699.3V712M722.10 689.1V712M732.40 697.4V712M739.26 697.6V712M742.70 697.9V712M749.56 691.0V712M759.86 691.4V712M763.29 695.0V712M766.72 699.8V712M770.15 697.4V712M773.58 692.4V712M777.02 677.2V712M780.45 688.8V712M787.31 691.4V712M797.61 692.6V712M804.47 695.3V712M811.34 694.8V712M814.77 690.4V712M818.20 694.4V712M821.63 697.2V712M831.93 700.8V712M835.36 696.1V712M838.79 692.3V712M842.23 700.9V712M845.66 698.7V712M849.09 702.4V712M866.25 701.5V712M883.41 701.9V712M886.84 700.6V712M893.71 705.3V712M897.14 701.2V712M900.57 702.3V712M904.00 704.0V712M907.44 702.1V712M910.87 666.7V712M914.30 689.7V712M921.16 689.3V712M934.89 695.3V712M938.32 685.8V712M952.05 660.6V712M958.92 658.8V712M972.65 682.1V712M982.94 681.9V712M1003.53 656.5V712M1010.40 636.1V712M1017.26 646.9V712M1020.69 640.9V712M1030.99 617.2V712M1034.42 645.3V712M1037.85 649.4V712M1048.15 669.7V712M1051.58 684.7V712M1055.02 673.6V712M1058.45 666.0V712M1072.18 664.2V712M1075.61 665.2V712M1082.47 680.3V712M1085.90 671.6V712M1092.77 661.5V712M1109.93 648.1V712M1116.79 661.9V712M1120.22 664.7V712M1123.66 667.8V712M1130.52 688.2V712M1133.95 678.9V712M1137.38 611.6V712M1140.82 667.3V712M1144.25 641.5V712M1157.98 663.0V712M1161.41 619.5V712M1171.71 645.6V712M1178.57 667.5V712M1182.00 682.8V712M1192.30 664.6V712M1202.59 679.8V712M1212.89 680.9V712M1226.62 652.5V712M1230.05 654.4V712M1233.48 670.2V712M1236.92 681.0V712M1243.78 685.3V712M1247.21 683.1V712M1254.08 679.4V712M1260.94 678.4V712M1274.67 648.4V712M1291.83 680.2V712M1302.12 684.0V712M1305.56 671.4V712M1312.42 644.7V712M1319.28 622.0V712M1322.72 622.0V712M1326.15 658.2V712M1329.58 648.9V712M1360.47 597.5V712M1370.77 597.6V712M1381.06 641.2V712M1384.49 615.5V712M1387.93 649.1V712M1391.36 631.5V712M1394.79 625.9V712M1398.22 669.0V712M1401.65 655.3V712M1405.09 671.8V712M1432.54 647.9V712M1439.41 644.2V712M1446.27 659.8V712M1449.70 652.6V712" stroke="#40ffff" stroke-width="2.4" fill="none"/><g></g><path d="M4.5 831V831.0M35.5 831V829.6M38.5 831V828.9M42.5 831V828.2M45.5 831V827.6M49.5 831V826.9M52.5 831V823.8M55.5 831V825.4M59.5 831V828.0M62.5 831V830.7M83.5 831V825.7M86.5 831V818.9M90.5 831V812.0M93.5 831V813.9M97.5 831V816.3M100.5 831V818.7M104.5 831V823.9M107.5 831V829.0M121.5 831V826.6M124.5 831V822.1M128.5 831V824.6M131.5 831V829.4M141.5 831V829.2M145.5 831V825.9M148.5 831V822.7M152.5 831V820.6M155.5 831V819.7M158.5 831V818.8M162.5 831V817.9M165.5 831V817.0M169.5 831V816.7M172.5 831V816.3M176.5 831V814.1M179.5 831V803.1M182.5 831V799.6M186.5 831V798.9M189.5 831V808.3M193.5 831V819.1M244.5 831V826.7M248.5 831V820.3M251.5 831V817.7M255.5 831V822.8M258.5 831V828.0M323.5 831V828.0M327.5 831V819.2M330.5 831V821.5M333.5 831V826.6M337.5 831V829.2M361.5 831V826.4M364.5 831V817.0M368.5 831V807.5M371.5 831V797.3M375.5 831V787.0M378.5 831V789.4M382.5 831V793.3M385.5 831V797.1M388.5 831V800.9M392.5 831V804.7M395.5 831V808.5M399.5 831V812.6M402.5 831V817.2M406.5 831V822.4M409.5 831V831.0M488.5 831V829.1M491.5 831V827.3M495.5 831V821.8M498.5 831V816.3M502.5 831V810.9M505.5 831V805.4M509.5 831V802.0M512.5 831V798.6M515.5 831V798.6M519.5 831V803.0M522.5 831V813.3M526.5 831V822.0M529.5 831V824.1M533.5 831V828.3M546.5 831V826.2M550.5 831V819.2M553.5 831V819.9M557.5 831V821.4M560.5 831V822.9M563.5 831V824.4M567.5 831V827.1M570.5 831V830.8M605.5 831V825.8M608.5 831V819.2M611.5 831V812.7M615.5 831V806.2M618.5 831V806.6M622.5 831V807.1M625.5 831V808.0M629.5 831V812.8M632.5 831V814.7M636.5 831V816.5M639.5 831V828.5M704.5 831V828.5M708.5 831V826.1M711.5 831V825.0M714.5 831V823.9M718.5 831V823.2M721.5 831V825.2M725.5 831V827.1M738.5 831V828.6M742.5 831V823.4M745.5 831V818.1M749.5 831V812.9M752.5 831V812.1M756.5 831V813.7M759.5 831V819.8M762.5 831V825.8M766.5 831V829.7M800.5 831V823.3M804.5 831V820.7M807.5 831V819.2M811.5 831V818.4M814.5 831V817.5M817.5 831V816.6M821.5 831V815.6M824.5 831V814.2M828.5 831V814.5M831.5 831V815.4M835.5 831V816.2M838.5 831V816.4M841.5 831V817.2M845.5 831V824.7M879.5 831V829.4M968.5 831V827.6M972.5 831V820.7M975.5 831V810.7M979.5 831V800.8M982.5 831V790.8M986.5 831V784.7M989.5 831V787.0M992.5 831V787.3M996.5 831V786.7M999.5 831V786.1M1003.5 831V791.5M1006.5 831V798.3M1010.5 831V805.2M1013.5 831V812.1M1016.5 831V816.0M1020.5 831V815.9M1023.5 831V815.8M1027.5 831V815.7M1030.5 831V822.3M1034.5 831V825.5M1037.5 831V828.7M1161.5 831V830.4M1164.5 831V825.8M1167.5 831V821.3M1171.5 831V820.5M1174.5 831V819.7M1178.5 831V819.2M1181.5 831V818.7M1185.5 831V818.3M1188.5 831V817.9M1191.5 831V817.5M1195.5 831V817.1M1198.5 831V817.2M1202.5 831V816.4M1205.5 831V815.6M1209.5 831V814.8M1212.5 831V814.0M1216.5 831V814.3M1219.5 831V814.7M1222.5 831V814.5M1226.5 831V814.2M1229.5 831V819.0M1233.5 831V826.9M1236.5 831V828.3M1240.5 831V829.6M1267.5 831V827.0M1270.5 831V824.7M1274.5 831V824.3M1277.5 831V826.1M1281.5 831V827.8M1284.5 831V829.6M1288.5 831V828.5M1305.5 831V828.4M1308.5 831V826.7M1312.5 831V824.9M1315.5 831V829.0M1339.5 831V829.7M1343.5 831V827.5M1346.5 831V825.4M1349.5 831V823.2M1353.5 831V818.5M1356.5 831V815.3M1360.5 831V813.6M1363.5 831V811.0M1367.5 831V806.5M1370.5 831V802.1M1373.5 831V797.6M1377.5 831V807.7M1380.5 831V822.5M1384.5 831V829.3M1425.5 831V831.0M1428.5 831V824.8M1432.5 831V821.4M1435.5 831V818.1M1439.5 831V815.8M1442.5 831V818.1M1445.5 831V821.8M1449.5 831V825.5M1452.5 831V823.3M1456.5 831V820.1M1459.5 831V816.2" stroke="#ff3c3c" stroke-width="2" fill="none"/><path d="M7.5 831V831.7M11.5 831V832.8M14.5 831V833.8M18.5 831V834.8M21.5 831V835.9M25.5 831V834.8M28.5 831V832.7M31.5 831V831.1M66.5 831V833.3M69.5 831V835.9M73.5 831V835.4M76.5 831V835.3M80.5 831V832.6M110.5 831V834.1M114.5 831V835.6M117.5 831V831.1M134.5 831V834.2M138.5 831V832.4M196.5 831V838.8M200.5 831V858.5M203.5 831V863.9M206.5 831V867.5M210.5 831V873.4M213.5 831V880.3M217.5 831V887.1M220.5 831V882.6M224.5 831V881.4M227.5 831V872.2M231.5 831V857.8M234.5 831V843.4M237.5 831V839.3M241.5 831V833.1M261.5 831V831.3M265.5 831V832.2M268.5 831V833.0M272.5 831V835.9M275.5 831V841.0M279.5 831V843.5M282.5 831V840.1M285.5 831V840.2M289.5 831V840.8M292.5 831V839.9M296.5 831V838.2M299.5 831V836.4M303.5 831V841.7M306.5 831V849.2M309.5 831V856.8M313.5 831V861.2M316.5 831V845.5M320.5 831V836.8M340.5 831V834.6M344.5 831V840.6M347.5 831V846.6M351.5 831V841.7M354.5 831V841.1M358.5 831V835.8M412.5 831V839.5M416.5 831V842.0M419.5 831V846.1M423.5 831V850.3M426.5 831V854.4M430.5 831V860.2M433.5 831V863.0M436.5 831V865.3M440.5 831V868.3M443.5 831V871.7M447.5 831V867.1M450.5 831V855.3M454.5 831V853.2M457.5 831V851.2M460.5 831V846.2M464.5 831V840.7M467.5 831V835.3M471.5 831V833.5M474.5 831V844.6M478.5 831V855.0M481.5 831V845.9M484.5 831V836.9M536.5 831V833.2M539.5 831V838.1M543.5 831V833.2M574.5 831V834.6M577.5 831V839.4M581.5 831V844.8M584.5 831V850.3M587.5 831V845.3M591.5 831V838.2M594.5 831V836.8M598.5 831V835.5M601.5 831V832.3M642.5 831V834.9M646.5 831V840.0M649.5 831V849.7M653.5 831V859.4M656.5 831V864.8M660.5 831V861.0M663.5 831V857.2M666.5 831V853.5M670.5 831V853.4M673.5 831V855.1M677.5 831V856.0M680.5 831V856.0M684.5 831V856.0M687.5 831V856.0M690.5 831V856.0M694.5 831V850.6M697.5 831V841.6M701.5 831V835.1M728.5 831V831.7M732.5 831V836.5M735.5 831V833.9M769.5 831V833.6M773.5 831V840.8M776.5 831V848.2M780.5 831V854.6M783.5 831V850.6M787.5 831V845.5M790.5 831V840.3M793.5 831V838.3M797.5 831V832.3M848.5 831V832.3M852.5 831V836.4M855.5 831V837.1M859.5 831V837.8M862.5 831V837.2M865.5 831V835.7M869.5 831V834.3M872.5 831V832.8M876.5 831V831.3M883.5 831V831.0M886.5 831V833.7M889.5 831V836.3M893.5 831V839.0M896.5 831V841.4M900.5 831V843.5M903.5 831V842.3M907.5 831V846.6M910.5 831V857.2M914.5 831V866.5M917.5 831V864.6M920.5 831V856.7M924.5 831V848.8M927.5 831V843.8M931.5 831V840.3M934.5 831V836.9M938.5 831V833.4M941.5 831V832.7M944.5 831V839.1M948.5 831V844.5M951.5 831V841.1M955.5 831V838.8M958.5 831V836.5M962.5 831V834.2M965.5 831V831.1M1040.5 831V831.9M1044.5 831V835.1M1047.5 831V842.9M1051.5 831V851.5M1054.5 831V855.7M1058.5 831V859.5M1061.5 831V853.7M1065.5 831V848.0M1068.5 831V846.2M1071.5 831V845.0M1075.5 831V847.2M1078.5 831V851.1M1082.5 831V855.1M1085.5 831V853.4M1089.5 831V850.0M1092.5 831V846.5M1095.5 831V848.9M1099.5 831V852.4M1102.5 831V849.0M1106.5 831V842.2M1109.5 831V835.3M1113.5 831V836.1M1116.5 831V839.5M1119.5 831V842.9M1123.5 831V846.3M1126.5 831V847.2M1130.5 831V844.1M1133.5 831V841.0M1137.5 831V841.4M1140.5 831V846.0M1143.5 831V851.3M1147.5 831V856.7M1150.5 831V852.7M1154.5 831V846.7M1157.5 831V835.6M1243.5 831V831.7M1246.5 831V837.1M1250.5 831V842.5M1253.5 831V847.9M1257.5 831V851.8M1260.5 831V842.9M1264.5 831V832.1M1291.5 831V832.7M1294.5 831V836.9M1298.5 831V839.2M1301.5 831V833.7M1318.5 831V833.9M1322.5 831V836.0M1325.5 831V836.1M1329.5 831V834.6M1332.5 831V833.1M1336.5 831V831.6M1387.5 831V834.8M1391.5 831V838.7M1394.5 831V839.5M1397.5 831V844.5M1401.5 831V850.1M1404.5 831V855.7M1408.5 831V860.4M1411.5 831V859.5M1415.5 831V856.8M1418.5 831V854.1M1421.5 831V840.5" stroke="#40ffff" stroke-width="2" fill="none"/><path d="M3.4 280.0C6.8 280.6 18.9 283.2 24.0 283.5C29.1 283.8 25.2 283.1 34.0 282.0C42.8 280.9 66.4 280.0 77.0 277.0C87.6 274.0 91.4 267.2 97.6 264.0C103.8 260.8 108.6 261.0 114.0 258.0C119.4 255.0 126.5 248.8 130.0 246.0C133.5 243.2 132.3 244.2 135.0 241.5C137.7 238.8 143.2 232.7 146.0 229.6C148.8 226.5 147.7 227.4 152.0 223.0C156.3 218.6 165.4 212.0 171.7 203.0C177.9 194.0 185.9 175.1 189.5 169.0C193.1 162.9 190.4 168.4 193.3 166.7C196.2 165.0 201.5 160.6 206.9 158.6C212.3 156.6 219.5 156.4 225.8 154.6C232.1 152.8 238.0 150.6 244.8 147.8C251.6 145.0 257.2 139.3 266.4 138.0C275.6 136.7 291.7 137.4 300.0 140.0C308.3 142.6 310.6 150.1 316.0 153.4C321.4 156.7 326.2 156.6 332.5 160.0C338.8 163.4 348.1 171.4 354.0 173.7C359.9 176.0 363.2 174.8 367.7 173.7C372.2 172.6 376.0 169.9 381.0 167.0C386.0 164.1 391.2 158.5 397.5 156.0C403.8 153.5 413.6 152.7 419.0 152.0C424.4 151.3 424.8 149.3 430.0 152.0C435.2 154.7 443.3 163.6 450.0 168.3C456.7 173.1 464.2 175.4 470.3 180.5C476.4 185.6 480.8 194.1 486.6 198.8C492.4 203.6 498.1 206.1 504.9 209.0C511.7 211.9 521.5 213.8 527.2 216.0C533.0 218.2 534.6 220.1 539.4 222.0C544.1 223.9 550.3 225.0 555.7 227.2C561.1 229.4 567.3 231.7 572.0 235.4C576.7 239.1 579.3 245.9 584.0 249.6C588.7 253.3 594.0 255.8 600.0 257.6C606.0 259.4 613.5 260.4 620.3 260.6C627.1 260.8 635.3 257.6 640.7 258.6C646.1 259.6 649.1 264.5 652.8 266.7C656.5 268.9 659.6 270.1 663.0 271.8C666.4 273.5 669.5 274.1 673.2 277.0C676.9 279.9 681.3 285.3 685.4 289.0C689.5 292.7 692.9 295.9 697.6 299.3C702.3 302.7 709.1 306.0 713.8 309.4C718.5 312.8 721.9 316.7 726.0 319.6C730.1 322.5 734.2 324.6 738.2 326.7C742.2 328.8 746.4 331.0 750.0 332.5C753.6 334.0 755.6 332.9 760.0 335.6C764.4 338.3 772.0 345.2 776.4 348.8C780.8 352.4 782.9 354.1 786.6 357.0C790.3 359.9 794.7 364.0 798.8 366.0C802.9 368.0 805.6 368.2 811.0 369.0C816.4 369.8 824.5 370.0 831.3 371.0C838.1 372.0 844.8 374.0 851.6 375.2C858.4 376.4 865.2 377.3 872.0 378.3C878.8 379.3 887.6 380.1 892.3 381.3C897.0 382.5 896.5 382.9 900.0 385.5C903.5 388.1 908.6 393.1 913.5 396.8C918.4 400.6 924.1 403.5 929.4 408.0C934.7 412.5 939.6 419.0 945.2 423.9C950.8 428.8 958.3 434.2 963.2 437.5C968.1 440.8 970.7 442.9 974.5 443.8C978.3 444.7 982.4 443.9 985.8 443.0C989.2 442.1 991.1 441.0 994.9 438.6C998.7 436.2 1003.1 432.3 1008.4 428.4C1013.7 424.4 1021.2 418.8 1026.5 414.9C1031.8 410.9 1036.1 407.2 1040.0 404.7C1043.9 402.2 1046.5 401.1 1050.0 400.0C1053.5 398.9 1056.8 399.1 1060.7 398.0C1064.6 396.9 1068.9 394.0 1073.6 393.6C1078.2 393.2 1083.2 394.9 1088.6 395.8C1094.0 396.7 1101.1 397.9 1105.8 399.0C1110.5 400.1 1112.2 400.2 1116.5 402.2C1120.8 404.2 1127.6 408.3 1131.5 410.8C1135.4 413.3 1136.4 413.7 1140.0 417.3C1143.6 420.9 1148.7 428.7 1153.0 432.3C1157.3 435.9 1161.2 436.4 1165.9 438.7C1170.6 441.0 1175.3 444.0 1181.0 446.2C1186.7 448.4 1192.3 451.2 1200.0 452.0C1207.7 452.8 1218.9 450.9 1227.0 451.2C1235.1 451.5 1243.0 452.7 1248.7 453.9C1254.4 455.1 1256.0 457.8 1261.4 458.4C1266.8 459.0 1275.5 457.2 1281.2 457.5C1286.9 457.8 1290.0 460.1 1295.7 460.2C1301.4 460.3 1309.8 458.5 1315.5 458.4C1321.2 458.2 1325.2 459.4 1330.0 459.3C1334.8 459.2 1341.1 458.2 1344.4 457.5C1347.7 456.8 1345.9 457.9 1350.0 454.8C1354.1 451.7 1364.0 443.5 1369.0 439.0C1374.0 434.5 1376.1 430.7 1379.7 428.0C1383.3 425.3 1387.0 424.4 1390.6 422.6C1394.2 420.8 1397.2 418.1 1401.4 417.2C1405.6 416.3 1412.5 417.5 1415.8 417.2C1419.1 416.9 1418.9 416.6 1421.3 415.4C1423.7 414.2 1427.0 412.1 1430.3 410.0C1433.6 407.9 1437.5 405.1 1441.1 402.8C1444.7 400.6 1449.1 398.5 1452.0 396.5C1454.9 394.5 1457.2 391.9 1458.3 391.0" fill="none" stroke="#ffff00" stroke-width="1.1" stroke-linejoin="round" /><path d="M3.4 282.0C4.8 282.1 8.9 281.1 12.0 282.4C15.1 283.6 18.9 289.6 22.0 289.5C25.1 289.4 27.4 284.4 30.5 282.0C33.6 279.6 36.9 277.0 40.6 275.0C44.3 273.0 49.1 270.7 52.8 270.0C56.5 269.3 59.0 270.5 63.0 271.0C67.0 271.5 74.0 274.2 77.0 273.0C80.0 271.8 79.0 267.8 81.0 264.0C83.0 260.2 86.6 253.2 89.0 250.0C91.4 246.8 92.7 246.5 95.5 245.0C98.3 243.5 103.0 241.9 105.7 240.8C108.4 239.8 109.8 240.9 111.8 238.7C113.8 236.5 115.6 231.0 118.0 227.6C120.4 224.2 123.3 220.6 126.0 218.0C128.7 215.4 131.3 215.5 134.0 212.0C136.7 208.5 139.5 201.0 142.0 197.0C144.5 193.0 146.3 192.8 149.0 188.0C151.7 183.2 155.2 173.2 158.0 168.0C160.8 162.8 163.3 161.1 166.0 157.0C168.7 152.9 171.9 148.6 174.0 143.7C176.1 138.8 177.0 132.9 178.4 127.5C179.8 122.0 181.1 116.2 182.5 111.0C183.9 105.8 185.2 98.7 186.6 96.0C187.9 93.3 189.0 94.5 190.6 95.0C192.2 95.5 194.0 97.4 196.0 99.0C198.0 100.6 201.0 103.4 202.8 104.5C204.6 105.6 204.9 103.4 206.9 105.8C208.9 108.2 212.8 114.3 215.0 119.0C217.2 123.7 218.2 130.6 220.4 134.0C222.7 137.4 225.8 139.4 228.5 139.7C231.2 140.0 233.9 139.0 236.6 135.6C239.3 132.2 242.1 122.2 244.8 119.0C247.5 115.8 250.2 116.9 252.9 116.7C255.6 116.5 258.8 118.3 261.0 118.0C263.2 117.7 264.1 113.2 266.4 115.0C268.7 116.8 271.4 125.8 274.6 128.8C277.8 131.8 282.2 131.6 285.4 133.0C288.5 134.4 290.6 135.2 293.5 137.0C296.4 138.8 300.3 137.4 302.7 144.0C305.1 150.6 306.2 170.6 308.0 176.4C309.8 182.2 311.5 179.0 313.5 179.0C315.5 179.0 317.8 177.7 320.0 176.4C322.2 175.1 324.7 170.1 327.0 171.0C329.3 171.9 331.5 179.2 333.8 181.9C336.1 184.6 338.3 183.0 340.6 187.0C342.9 191.0 345.4 202.6 347.4 206.0C349.4 209.4 351.0 209.4 352.8 207.6C354.6 205.8 356.2 198.8 358.2 195.0C360.2 191.2 363.0 188.2 365.0 184.6C367.0 181.0 368.1 178.2 370.4 173.7C372.6 169.2 375.8 162.2 378.5 157.5C381.2 152.8 384.1 148.7 386.6 145.3C389.1 141.9 391.6 139.2 393.4 137.0C395.2 134.8 395.7 132.2 397.5 131.8C399.3 131.4 401.8 134.7 404.3 134.5C406.8 134.3 409.9 130.0 412.4 130.4C414.8 130.8 416.7 133.8 419.0 137.0C421.3 140.2 423.7 144.6 426.0 149.4C428.3 154.2 430.4 160.7 432.7 165.6C434.9 170.5 437.0 174.5 439.5 179.0C442.0 183.5 445.4 190.2 447.6 192.7C449.9 195.1 451.3 192.2 453.0 193.7C454.7 195.2 456.5 200.2 458.0 201.8C459.5 203.4 460.3 201.8 462.0 203.0C463.7 204.2 466.6 207.0 468.3 209.0C470.0 211.0 471.2 211.7 472.4 215.0C473.6 218.3 474.0 224.9 475.4 229.0C476.8 233.1 479.0 237.2 480.5 239.4C482.0 241.7 482.6 242.0 484.6 242.5C486.6 243.0 490.3 242.3 492.7 242.5C495.1 242.7 496.4 244.2 498.8 243.5C501.2 242.8 505.0 239.4 507.0 238.4C509.0 237.4 509.3 238.4 511.0 237.4C512.7 236.4 515.3 233.2 517.0 232.3C518.7 231.5 519.3 231.8 521.0 232.3C522.7 232.8 525.5 234.4 527.2 235.4C528.9 236.4 529.6 237.1 531.3 238.4C533.0 239.8 535.4 242.7 537.4 243.5C539.4 244.3 541.5 244.0 543.5 243.5C545.5 243.0 547.9 240.4 549.6 240.4C551.3 240.4 552.0 242.0 553.7 243.5C555.4 245.0 557.8 246.5 559.8 249.6C561.8 252.7 563.9 258.1 565.9 261.8C567.9 265.5 570.0 268.6 572.0 272.0C574.0 275.4 576.0 279.3 578.0 282.0C580.0 284.7 582.0 287.2 584.0 288.2C586.0 289.2 588.2 287.9 590.2 288.2C592.2 288.5 594.3 290.0 596.3 290.0C598.3 290.0 600.0 288.8 602.0 288.0C604.0 287.2 606.3 286.3 608.0 285.0C609.7 283.7 610.8 281.3 612.2 280.0C613.6 278.7 614.9 278.9 616.3 277.0C617.6 275.1 618.9 270.7 620.3 268.8C621.6 266.9 622.7 267.1 624.4 265.7C626.1 264.3 628.8 261.6 630.5 260.6C632.2 259.6 633.4 259.6 634.6 259.6C635.8 259.6 636.2 259.4 637.6 260.6C639.0 261.8 641.0 265.0 642.7 266.7C644.4 268.4 646.4 268.8 647.8 270.8C649.1 272.9 649.6 276.6 650.8 279.0C652.0 281.4 653.5 283.2 654.9 285.0C656.3 286.8 657.6 288.6 659.0 290.0C660.4 291.4 661.8 292.5 663.0 293.2C664.2 293.9 664.6 293.7 666.0 294.2C667.4 294.7 669.4 294.0 671.1 296.2C672.8 298.4 674.5 304.2 676.2 307.4C677.9 310.6 679.8 311.8 681.3 315.5C682.8 319.2 683.9 326.8 685.4 329.8C686.9 332.9 688.9 332.8 690.4 333.8C691.9 334.8 693.0 335.2 694.5 335.9C696.0 336.6 697.7 337.0 699.6 337.9C701.5 338.8 703.7 340.1 705.7 341.0C707.7 341.9 709.8 341.8 711.8 343.0C713.8 344.2 715.9 345.8 717.9 348.0C719.9 350.2 722.0 353.8 724.0 356.2C726.0 358.6 728.3 360.9 730.0 362.3C731.7 363.7 732.3 364.5 734.0 364.3C735.7 364.1 737.8 362.3 740.2 361.3C742.6 360.3 746.4 358.8 748.4 358.2C750.4 357.6 750.9 358.6 752.0 358.0C753.1 357.4 753.8 355.2 755.0 354.9C756.2 354.5 757.5 354.5 759.0 355.9C760.5 357.2 762.5 360.5 764.2 363.0C765.9 365.5 767.4 367.3 769.3 371.0C771.2 374.7 773.7 382.3 775.4 385.4C777.1 388.5 778.1 388.7 779.5 389.4C780.9 390.1 782.3 388.9 783.5 389.4C784.7 389.9 785.4 391.5 786.6 392.5C787.8 393.5 789.2 394.3 790.7 395.5C792.2 396.7 794.0 398.9 795.7 399.6C797.4 400.3 799.3 400.3 800.8 399.6C802.3 398.9 803.5 396.7 804.9 395.5C806.3 394.3 807.3 393.5 809.0 392.5C810.7 391.5 813.0 390.4 815.0 389.4C817.0 388.4 819.2 387.4 821.1 386.4C823.0 385.4 824.5 384.6 826.2 383.3C827.9 382.0 829.8 379.5 831.3 378.3C832.8 377.1 833.7 376.0 835.4 376.2C837.1 376.4 839.6 377.8 841.5 379.3C843.4 380.8 844.8 384.0 846.5 385.4C848.2 386.8 849.7 387.4 851.6 387.4C853.5 387.4 855.8 385.9 857.7 385.4C859.6 384.9 861.1 384.1 862.8 384.3C864.5 384.5 866.0 385.9 867.9 386.4C869.8 386.9 872.0 387.2 874.0 387.4C876.0 387.6 878.4 387.2 880.1 387.4C881.8 387.6 882.4 387.0 884.1 388.4C885.8 389.8 888.2 394.0 890.2 395.5C892.2 397.0 894.3 397.0 896.3 397.6C898.3 398.2 900.5 397.6 902.3 399.0C904.0 400.4 905.3 402.0 906.8 405.8C908.3 409.6 909.8 417.1 911.3 421.6C912.8 426.1 914.3 430.0 915.8 433.0C917.3 436.0 918.8 438.2 920.3 439.7C921.8 441.2 923.3 441.4 924.8 442.0C926.3 442.6 927.9 441.9 929.4 443.0C930.9 444.1 932.4 446.3 933.9 448.8C935.4 451.3 936.9 454.8 938.4 457.8C939.9 460.8 941.7 464.9 943.0 466.8C944.3 468.7 945.2 468.2 946.3 469.0C947.4 469.8 948.4 470.2 949.7 471.3C951.0 472.4 952.5 474.8 954.2 475.9C955.9 477.0 958.0 477.1 959.9 478.0C961.8 478.9 963.8 481.3 965.5 481.5C967.2 481.7 968.5 481.4 970.0 479.3C971.5 477.2 972.8 473.0 974.5 469.0C976.2 465.0 978.5 459.6 980.2 455.5C981.9 451.4 983.2 447.2 984.7 444.2C986.2 441.2 987.9 439.8 989.2 437.5C990.5 435.2 991.5 433.3 992.6 430.7C993.7 428.1 994.9 424.2 996.0 421.6C997.1 419.0 998.1 417.2 999.4 414.9C1000.7 412.6 1002.0 409.9 1003.9 408.0C1005.8 406.1 1008.6 405.1 1010.7 403.6C1012.8 402.1 1014.8 400.5 1016.3 399.0C1017.8 397.5 1018.6 395.6 1019.7 394.5C1020.8 393.4 1021.7 394.6 1023.0 392.3C1024.3 390.1 1026.3 383.4 1027.6 381.0C1028.9 378.6 1029.5 378.4 1031.0 377.6C1032.5 376.9 1034.8 377.3 1036.7 376.5C1038.6 375.7 1040.4 373.9 1042.3 373.0C1044.2 372.1 1046.4 371.0 1048.0 370.8C1049.6 370.6 1050.4 370.5 1052.0 372.0C1053.6 373.5 1055.7 378.6 1057.5 379.7C1059.3 380.8 1061.4 379.1 1063.0 378.6C1064.6 378.1 1065.8 376.9 1067.2 376.5C1068.6 376.1 1069.9 375.8 1071.5 376.5C1073.1 377.2 1075.2 379.2 1076.8 380.8C1078.4 382.4 1079.4 384.0 1081.0 386.0C1082.6 388.0 1084.9 390.4 1086.5 392.6C1088.1 394.8 1089.4 397.2 1090.8 399.0C1092.2 400.8 1093.4 402.4 1095.0 403.3C1096.6 404.2 1098.6 404.6 1100.4 404.4C1102.2 404.2 1104.0 402.9 1105.8 402.2C1107.6 401.5 1109.2 397.5 1111.0 400.0C1112.8 402.5 1114.5 413.0 1116.5 417.3C1118.5 421.6 1120.8 423.3 1123.0 425.8C1125.2 428.3 1127.6 430.5 1129.4 432.3C1131.2 434.1 1132.4 433.4 1133.7 436.6C1135.0 439.8 1135.8 447.0 1137.0 451.6C1138.2 456.2 1140.0 461.3 1141.2 464.5C1142.4 467.7 1143.0 469.2 1144.4 471.0C1145.8 472.8 1148.0 474.5 1149.8 475.2C1151.6 475.9 1153.6 475.7 1155.2 475.2C1156.8 474.7 1157.8 472.9 1159.4 472.0C1161.0 471.1 1163.0 470.2 1164.8 469.8C1166.6 469.4 1168.2 469.4 1170.0 469.8C1171.8 470.2 1173.7 471.3 1175.5 472.0C1177.3 472.7 1179.2 474.2 1181.0 474.0C1182.8 473.8 1184.5 471.5 1186.3 471.0C1188.1 470.5 1189.6 471.0 1191.6 471.0C1193.5 471.0 1196.3 471.4 1198.0 471.0C1199.7 470.6 1200.3 469.2 1201.8 468.3C1203.3 467.4 1205.5 466.5 1207.2 465.6C1208.9 464.7 1210.2 463.5 1211.7 462.9C1213.2 462.3 1215.0 462.8 1216.2 462.0C1217.4 461.2 1217.9 459.8 1219.0 458.4C1220.1 457.0 1221.4 455.1 1222.6 453.9C1223.8 452.7 1225.0 451.9 1226.2 451.2C1227.4 450.4 1228.6 449.5 1229.8 449.4C1231.0 449.2 1232.4 449.6 1233.4 450.3C1234.5 451.1 1235.0 452.8 1236.1 453.9C1237.1 454.9 1238.3 455.7 1239.7 456.6C1241.1 457.5 1242.7 458.2 1244.2 459.3C1245.7 460.4 1247.2 461.5 1248.7 462.9C1250.2 464.2 1251.7 466.2 1253.2 467.4C1254.7 468.6 1256.3 469.5 1257.8 470.0C1259.3 470.5 1260.6 470.9 1262.3 470.5C1264.0 470.1 1266.0 468.5 1267.7 467.4C1269.4 466.3 1270.9 465.0 1272.2 463.8C1273.5 462.6 1274.5 461.1 1275.8 460.2C1277.1 459.3 1278.8 458.8 1280.3 458.4C1281.8 457.9 1283.4 457.2 1284.8 457.5C1286.2 457.8 1287.0 459.0 1288.4 460.2C1289.8 461.4 1291.5 463.6 1293.0 464.7C1294.5 465.8 1296.0 466.2 1297.5 466.5C1299.0 466.8 1300.5 466.8 1302.0 466.5C1303.5 466.2 1305.0 465.9 1306.5 464.7C1308.0 463.5 1309.7 460.8 1311.0 459.3C1312.3 457.8 1313.4 456.6 1314.6 455.7C1315.8 454.8 1317.0 453.8 1318.2 453.9C1319.4 454.0 1320.4 455.9 1321.8 456.6C1323.2 457.4 1324.9 457.9 1326.4 458.4C1327.9 458.8 1329.4 459.1 1330.9 459.3C1332.4 459.5 1333.9 459.5 1335.4 459.3C1336.9 459.1 1338.4 459.3 1339.9 458.4C1341.4 457.5 1342.9 457.0 1344.4 453.9C1345.9 450.8 1347.6 444.9 1349.0 440.0C1350.4 435.1 1351.4 427.7 1352.6 424.5C1353.8 421.3 1355.1 422.0 1356.3 420.8C1357.5 419.6 1358.7 418.7 1359.9 417.2C1361.1 415.7 1362.3 413.6 1363.5 411.8C1364.7 410.0 1365.8 408.8 1367.0 406.4C1368.2 404.0 1369.5 399.8 1370.7 397.4C1371.9 395.0 1373.2 393.8 1374.3 392.0C1375.3 390.2 1375.8 387.7 1377.0 386.5C1378.2 385.3 1380.2 384.8 1381.5 384.7C1382.8 384.6 1383.9 385.0 1385.1 385.6C1386.3 386.2 1387.1 387.9 1388.8 388.3C1390.5 388.8 1393.3 388.3 1395.0 388.3C1396.7 388.3 1397.5 387.7 1398.7 388.3C1399.9 388.9 1401.1 390.5 1402.3 392.0C1403.5 393.5 1404.7 395.6 1405.9 397.4C1407.1 399.2 1408.5 401.4 1409.5 402.8C1410.5 404.2 1411.0 404.9 1412.2 405.5C1413.4 406.1 1415.4 406.2 1416.7 406.4C1418.0 406.5 1419.2 406.7 1420.3 406.4C1421.4 406.1 1422.3 406.4 1423.1 404.6C1423.9 402.8 1424.0 398.0 1424.9 395.6C1425.8 393.2 1427.5 391.5 1428.5 390.0C1429.5 388.5 1430.2 388.0 1431.2 386.5C1432.2 385.0 1433.6 382.8 1434.8 381.0C1436.0 379.2 1437.4 376.9 1438.4 375.7C1439.5 374.5 1440.0 374.8 1441.1 374.0C1442.1 373.2 1443.5 371.8 1444.7 371.2C1445.9 370.6 1447.1 370.3 1448.3 370.3C1449.5 370.3 1450.8 371.5 1452.0 371.2C1453.2 370.9 1454.4 370.8 1455.6 368.5C1456.8 366.2 1458.6 359.4 1459.2 357.6" fill="none" stroke="#ffffff" stroke-width="1.1" stroke-linejoin="round" /><path d="M5.0 702.9C6.7 702.8 11.4 703.1 15.0 702.5C18.6 701.9 23.4 699.8 26.7 699.0C30.0 698.2 32.2 697.9 35.0 697.6C37.8 697.4 40.0 697.5 43.3 697.6C46.6 697.8 51.1 698.6 55.0 698.6C58.9 698.7 63.1 699.0 66.7 698.1C70.3 697.1 72.8 694.0 76.7 692.8C80.6 691.6 85.6 691.0 90.0 690.8C94.4 690.7 98.8 691.8 103.3 691.9C107.8 692.0 112.8 692.0 116.7 691.4C120.6 690.8 123.4 689.2 126.7 688.5C130.0 687.8 134.5 686.4 136.7 687.1C138.9 687.8 137.8 690.9 140.0 692.7C142.2 694.4 146.7 696.8 150.0 697.8C153.3 698.7 156.7 698.9 160.0 698.3C163.3 697.6 166.1 695.7 170.0 693.9C173.9 692.1 178.9 689.5 183.3 687.5C187.8 685.5 192.5 682.4 196.7 681.7C200.9 681.0 203.9 682.5 208.3 683.3C212.7 684.2 218.6 685.6 223.3 686.7C228.0 687.7 232.2 689.0 236.7 689.5C241.1 690.0 246.1 689.6 250.0 689.7C253.9 689.8 256.4 689.9 260.0 690.0C263.6 690.1 267.8 690.3 271.7 690.5C275.6 690.7 280.0 690.7 283.3 691.1C286.6 691.5 288.6 693.2 291.7 693.0C294.8 692.9 298.9 691.7 301.7 690.3C304.5 688.8 306.1 685.7 308.3 684.2C310.5 682.6 312.5 681.3 315.0 681.1C317.5 681.0 320.8 682.2 323.3 683.4C325.8 684.6 326.7 687.8 330.0 688.4C333.3 689.0 339.4 686.7 343.3 687.0C347.2 687.2 349.7 689.7 353.3 690.0C356.9 690.3 361.7 688.7 365.0 688.9C368.3 689.0 370.8 690.5 373.3 690.8C375.8 691.1 376.9 690.0 380.0 690.5C383.1 691.0 387.0 693.0 391.7 693.9C396.4 694.7 404.1 695.6 408.3 695.5C412.5 695.4 413.6 694.8 416.7 693.3C419.8 691.8 423.1 688.1 426.7 686.6C430.3 685.2 434.4 684.8 438.3 684.4C442.2 684.0 446.9 684.5 450.0 684.2C453.1 683.8 454.2 683.8 456.7 682.2C459.2 680.7 461.9 677.3 465.0 674.7C468.1 672.1 471.9 667.6 475.0 666.7C478.1 665.7 480.8 667.5 483.3 669.2C485.8 670.8 487.2 674.3 490.0 676.7C492.8 679.1 496.4 682.1 500.0 683.6C503.6 685.2 507.8 685.2 511.7 685.9C515.6 686.5 519.7 687.0 523.3 687.5C526.9 688.0 530.0 688.7 533.3 688.9C536.6 689.1 540.0 688.9 543.3 688.6C546.6 688.3 549.4 687.1 553.3 687.2C557.2 687.3 561.7 688.7 566.7 689.4C571.7 690.1 577.8 690.8 583.3 691.4C588.8 692.0 594.4 693.0 600.0 693.1C605.6 693.2 611.2 691.9 616.7 692.0C622.2 692.1 628.3 693.3 633.3 693.6C638.3 694.0 642.2 693.9 646.7 694.2C651.2 694.5 654.5 695.9 660.0 695.3C665.5 694.7 675.5 692.6 680.0 690.8C684.5 689.1 684.3 686.2 686.7 685.0C689.1 683.8 690.9 683.3 694.2 683.6C697.5 683.9 703.0 685.3 706.7 686.9C710.5 688.6 712.3 692.0 716.7 693.3C721.1 694.6 727.8 694.5 733.3 694.9C738.8 695.3 747.2 695.7 750.0 695.7C752.8 695.7 738.3 694.7 750.0 694.7C761.7 694.7 802.5 694.7 820.0 695.6C837.5 696.5 841.3 698.8 855.0 700.0C868.7 701.2 892.0 703.8 902.2 702.6C912.4 701.4 911.0 695.0 916.2 693.0C921.5 691.0 929.9 689.9 933.7 690.3C937.5 690.7 937.0 698.1 939.0 695.6C941.0 693.1 942.2 680.9 946.0 675.5C949.8 670.1 957.0 663.1 961.7 663.2C966.4 663.3 969.9 675.4 974.0 676.3C978.1 677.2 981.9 672.0 986.2 668.5C990.5 665.0 994.2 659.1 1000.0 655.3C1005.8 651.5 1016.0 649.9 1021.0 645.7C1026.0 641.5 1025.6 630.3 1029.7 630.0C1033.8 629.7 1041.1 637.3 1045.5 644.0C1049.9 650.7 1049.6 665.2 1056.0 670.2C1062.4 675.2 1074.7 674.7 1084.0 673.7C1093.3 672.7 1103.8 664.0 1112.0 664.1C1120.2 664.2 1126.6 675.6 1133.0 674.6C1139.4 673.6 1146.1 663.5 1150.5 658.0C1154.9 652.5 1155.1 642.2 1159.2 641.3C1163.3 640.4 1169.5 648.2 1175.0 652.7C1180.5 657.2 1187.7 665.5 1192.4 668.5C1197.1 671.5 1198.9 669.1 1203.0 671.0C1207.1 672.9 1213.8 680.2 1217.0 679.8C1220.2 679.4 1218.7 669.5 1222.2 668.5C1225.7 667.5 1233.4 671.4 1238.0 673.7C1242.6 676.0 1246.2 681.2 1250.0 682.4C1253.8 683.6 1257.3 683.0 1260.5 680.7C1263.7 678.4 1265.1 671.3 1269.2 668.4C1273.3 665.5 1279.5 662.9 1285.0 663.2C1290.5 663.5 1296.1 672.0 1302.5 670.2C1308.9 668.5 1317.7 653.9 1323.5 652.7C1329.3 651.5 1333.3 660.7 1337.4 663.2C1341.5 665.7 1343.9 672.0 1348.0 667.6C1352.1 663.2 1357.3 646.3 1362.0 637.0C1366.7 627.7 1372.4 616.0 1375.9 611.6C1379.4 607.2 1379.5 607.1 1383.0 610.7C1386.5 614.4 1392.8 626.2 1396.9 633.5C1401.0 640.8 1403.3 649.1 1407.4 654.4C1411.5 659.6 1416.7 664.7 1421.4 665.0C1426.1 665.3 1431.3 659.6 1435.4 656.2C1439.5 652.8 1443.0 646.0 1445.9 644.8C1448.8 643.6 1450.9 650.5 1452.9 649.2C1454.9 647.9 1457.2 639.0 1458.1 637.0" fill="none" stroke="#ffff00" stroke-width="1.1" stroke-linejoin="round" /><path d="M5.0 705.0C6.7 704.3 11.4 701.3 15.0 700.8C18.6 700.2 23.4 702.8 26.7 701.7C30.0 700.7 32.2 695.3 35.0 694.5C37.8 693.7 40.0 695.5 43.3 696.7C46.6 697.9 51.1 701.6 55.0 701.7C58.9 701.8 63.1 698.6 66.7 697.5C70.3 696.4 72.8 697.0 76.7 695.0C80.6 693.0 85.6 686.3 90.0 685.8C94.4 685.2 98.8 689.6 103.3 691.7C107.8 693.8 112.8 699.5 116.7 698.3C120.6 697.0 123.4 686.8 126.7 684.2C130.0 681.7 134.5 681.3 136.7 683.0C138.9 684.7 137.8 691.2 140.0 694.2C142.2 697.2 146.7 700.1 150.0 700.8C153.3 701.5 156.7 699.1 160.0 698.3C163.3 697.5 166.1 697.6 170.0 695.8C173.9 694.0 178.9 690.3 183.3 687.5C187.8 684.7 192.5 680.7 196.7 679.2C200.9 677.7 203.9 676.1 208.3 678.3C212.7 680.5 218.6 690.7 223.3 692.5C228.0 694.3 232.2 690.2 236.7 689.2C241.1 688.2 246.1 686.0 250.0 686.7C253.9 687.4 256.4 692.8 260.0 693.3C263.6 693.8 267.8 690.8 271.7 690.0C275.6 689.2 280.0 687.5 283.3 688.3C286.6 689.1 288.6 693.8 291.7 695.0C294.8 696.2 298.9 698.3 301.7 695.8C304.5 693.3 306.1 683.2 308.3 680.0C310.5 676.8 312.5 675.6 315.0 676.7C317.5 677.8 320.8 685.0 323.3 686.7C325.8 688.4 326.7 685.9 330.0 686.7C333.3 687.5 339.4 692.4 343.3 691.7C347.2 691.0 349.7 681.8 353.3 682.5C356.9 683.2 361.7 694.8 365.0 695.8C368.3 696.8 370.8 689.5 373.3 688.3C375.8 687.0 376.9 687.2 380.0 688.3C383.1 689.4 387.0 693.3 391.7 695.0C396.4 696.7 404.1 698.6 408.3 698.3C412.5 698.0 413.6 695.0 416.7 693.3C419.8 691.6 423.1 690.8 426.7 688.3C430.3 685.8 434.4 678.6 438.3 678.3C442.2 678.0 446.9 685.2 450.0 686.7C453.1 688.2 454.2 689.9 456.7 687.5C459.2 685.1 461.9 676.4 465.0 672.5C468.1 668.6 471.9 665.7 475.0 664.2C478.1 662.7 480.8 660.7 483.3 663.3C485.8 665.9 487.2 676.1 490.0 680.0C492.8 683.9 496.4 686.0 500.0 686.7C503.6 687.4 507.8 684.2 511.7 684.2C515.6 684.2 519.7 685.5 523.3 686.7C526.9 688.0 530.0 691.4 533.3 691.7C536.6 692.0 540.0 689.3 543.3 688.3C546.6 687.3 549.4 685.9 553.3 685.8C557.2 685.7 561.7 686.0 566.7 687.5C571.7 689.0 577.8 694.3 583.3 695.0C588.8 695.7 594.4 692.1 600.0 691.7C605.6 691.3 611.2 692.5 616.7 692.5C622.2 692.5 628.3 691.0 633.3 691.7C638.3 692.4 642.2 696.3 646.7 696.7C651.2 697.1 654.5 694.5 660.0 694.2C665.5 693.9 675.5 696.8 680.0 695.0C684.5 693.2 684.3 686.3 686.7 683.3C689.1 680.2 690.9 675.5 694.2 676.7C697.5 678.0 703.0 688.0 706.7 690.8C710.5 693.6 712.3 692.5 716.7 693.3C721.1 694.1 727.8 695.4 733.3 695.8C738.8 696.2 744.3 695.6 750.0 695.6C755.7 695.6 761.7 696.5 767.5 695.6C773.3 694.7 780.3 690.7 785.0 690.3C789.7 689.9 791.7 693.3 795.5 693.0C799.3 692.7 803.0 687.7 807.7 688.6C812.4 689.5 818.5 696.9 823.5 698.2C828.5 699.5 832.2 695.9 837.5 696.5C842.8 697.1 849.2 700.7 855.0 701.7C860.8 702.7 864.6 702.3 872.5 702.6C880.4 702.9 894.9 706.6 902.2 703.5C909.5 700.4 912.4 686.5 916.2 684.2C920.0 681.9 921.8 687.3 925.0 689.5C928.2 691.7 932.8 698.5 935.4 697.3C938.0 696.1 938.4 691.1 940.7 682.5C943.0 673.9 946.8 648.6 949.4 645.7C952.0 642.8 953.5 658.5 956.4 665.0C959.3 671.5 963.8 682.7 967.0 685.0C970.2 687.3 972.5 683.5 975.7 679.0C978.9 674.5 982.2 662.0 986.2 658.0C990.2 654.0 994.8 657.6 1000.0 655.3C1005.2 653.0 1012.8 650.9 1017.5 644.0C1022.2 637.1 1025.1 616.0 1028.0 614.2C1030.9 612.5 1032.7 624.8 1035.0 633.5C1037.3 642.2 1038.2 660.0 1042.0 666.7C1045.8 673.4 1052.5 673.3 1057.7 673.7C1063.0 674.1 1069.1 668.3 1073.5 669.3C1077.9 670.3 1080.8 680.2 1084.0 679.8C1087.2 679.4 1089.8 667.4 1092.7 666.7C1095.6 666.0 1098.3 677.8 1101.5 675.5C1104.7 673.2 1108.5 653.3 1112.0 652.7C1115.5 652.1 1119.0 666.8 1122.5 672.0C1126.0 677.2 1130.1 685.7 1133.0 684.2C1135.9 682.7 1137.7 670.9 1140.0 663.2C1142.3 655.5 1144.1 639.9 1147.0 637.9C1149.9 635.9 1154.3 650.0 1157.5 651.0C1160.7 652.0 1162.4 639.9 1166.2 644.0C1170.0 648.1 1175.8 671.9 1180.2 675.5C1184.6 679.1 1188.9 665.8 1192.4 665.8C1195.9 665.8 1197.4 673.0 1201.2 675.5C1205.0 678.0 1211.7 682.3 1215.2 680.7C1218.7 679.1 1219.9 668.4 1222.2 665.8C1224.5 663.2 1226.9 662.5 1229.2 665.0C1231.5 667.5 1233.9 676.9 1236.2 680.7C1238.5 684.5 1240.9 687.7 1243.2 687.7C1245.5 687.7 1247.7 682.5 1250.0 680.7C1252.3 679.0 1254.7 678.4 1257.0 677.2C1259.3 676.0 1261.7 677.2 1264.0 673.7C1266.3 670.2 1268.7 658.5 1271.0 656.2C1273.3 653.9 1275.7 657.5 1278.0 659.7C1280.3 661.9 1282.7 668.0 1285.0 669.3C1287.3 670.6 1289.4 666.7 1292.0 667.6C1294.6 668.5 1297.8 675.9 1300.7 674.6C1303.6 673.3 1306.3 665.1 1309.5 659.7C1312.7 654.3 1317.1 644.4 1320.0 642.2C1322.9 640.0 1324.4 640.5 1327.0 646.6C1329.6 652.7 1332.8 675.4 1335.7 679.0C1338.6 682.6 1341.8 675.1 1344.4 668.4C1347.0 661.7 1348.8 646.9 1351.4 638.7C1354.0 630.6 1357.6 621.7 1360.2 619.5C1362.8 617.3 1364.6 628.2 1367.2 625.6C1369.8 623.0 1373.3 605.9 1375.9 603.7C1378.5 601.5 1379.8 605.2 1383.0 612.5C1386.2 619.8 1392.0 641.7 1395.2 647.4C1398.4 653.1 1399.2 643.1 1402.1 646.6C1405.0 650.1 1409.5 663.7 1412.6 668.4C1415.7 673.1 1418.5 676.9 1420.5 674.6C1422.5 672.3 1422.7 661.0 1424.9 654.4C1427.1 647.8 1431.3 636.1 1433.6 635.2C1435.9 634.3 1436.0 646.6 1438.9 649.2C1441.8 651.8 1447.9 655.8 1451.1 651.0C1454.3 646.2 1456.9 625.4 1458.1 620.3" fill="none" stroke="#ffffff" stroke-width="1.1" stroke-linejoin="round" /><path d="M5.0 831.2C8.3 832.0 17.5 837.7 25.0 836.2C32.5 834.8 41.7 824.6 50.0 822.5C58.3 820.4 66.7 826.0 75.0 823.7C83.3 821.4 91.7 812.7 100.0 808.7C108.3 804.8 116.7 803.3 125.0 800.0C133.3 796.7 141.7 792.5 150.0 788.7C158.3 785.0 168.2 783.1 175.0 777.5C181.8 771.9 185.6 755.6 191.0 755.0C196.4 754.4 202.7 765.4 207.5 773.7C212.3 782.0 215.4 796.0 220.0 805.0C224.6 814.0 230.0 825.4 235.0 827.5C240.0 829.6 244.2 819.2 250.0 817.5C255.8 815.8 264.6 815.2 270.0 817.5C275.4 819.8 277.5 827.5 282.5 831.2C287.5 835.0 294.6 834.8 300.0 840.0C305.4 845.2 309.6 859.2 315.0 862.5C320.4 865.8 326.2 859.2 332.5 860.0C338.8 860.8 345.4 871.2 352.5 867.5C359.6 863.8 367.5 848.3 375.0 837.5C382.5 826.7 391.2 808.3 397.5 802.5C403.8 796.7 407.1 799.6 412.5 802.5C417.9 805.4 425.8 815.0 430.0 820.0C434.2 825.0 434.2 826.2 437.5 832.5C440.8 838.8 444.6 851.7 450.0 857.5C455.4 863.3 463.8 863.8 470.0 867.5C476.2 871.2 480.4 880.8 487.5 880.0C494.6 879.2 506.2 868.1 512.5 862.5C518.8 856.9 518.8 849.3 525.0 846.2C531.2 843.1 541.7 842.2 550.0 843.7C558.3 845.2 568.3 851.7 575.0 855.0C581.7 858.3 583.3 864.5 590.0 863.7C596.7 862.9 608.3 855.6 615.0 850.0C621.7 844.4 625.8 834.4 630.0 830.0C634.2 825.6 635.8 823.3 640.0 823.7C644.2 824.1 649.2 828.5 655.0 832.5C660.8 836.5 668.3 841.7 675.0 847.5C681.7 853.3 686.7 864.4 695.0 867.5C703.3 870.6 715.8 868.3 725.0 866.2C734.2 864.1 744.2 858.1 750.0 855.0C755.8 851.9 755.8 847.9 760.0 847.5C764.2 847.1 770.0 850.2 775.0 852.5C780.0 854.8 785.8 859.5 790.0 861.2C794.2 862.9 795.0 865.2 800.0 862.5C805.0 859.8 813.8 850.2 820.0 845.0C826.2 839.8 832.5 833.7 837.5 831.2C842.5 828.7 843.8 829.6 850.0 830.0C856.2 830.4 866.7 832.2 875.0 833.7C883.3 835.2 893.8 836.4 900.0 838.7C906.2 841.0 908.3 843.1 912.5 847.5C916.7 851.9 918.8 861.0 925.0 865.0C931.2 869.0 942.5 870.2 950.0 871.2C957.5 872.2 964.2 874.3 970.0 871.2C975.8 868.1 980.0 862.3 985.0 852.5C990.0 842.7 995.0 822.1 1000.0 812.5C1005.0 802.9 1010.0 799.4 1015.0 795.0C1020.0 790.6 1024.2 786.8 1030.0 786.2C1035.8 785.6 1044.2 787.7 1050.0 791.2C1055.8 794.8 1059.6 803.5 1065.0 807.5C1070.4 811.5 1077.9 811.2 1082.5 815.0C1087.1 818.8 1087.9 826.0 1092.5 830.0C1097.1 834.0 1104.6 835.0 1110.0 838.7C1115.4 842.4 1120.0 848.0 1125.0 852.3C1130.0 856.6 1134.6 860.6 1140.0 864.7C1145.4 868.9 1151.6 877.0 1157.4 877.2C1163.2 877.4 1168.8 870.1 1175.0 866.0C1181.2 861.9 1187.4 857.9 1194.9 852.3C1202.4 846.7 1213.6 837.1 1219.8 832.3C1226.0 827.5 1226.5 823.6 1232.3 823.6C1238.1 823.6 1249.3 829.6 1254.7 832.3C1260.1 835.0 1259.7 840.2 1264.7 839.8C1269.7 839.4 1278.1 831.0 1284.7 829.8C1291.3 828.5 1298.8 832.9 1304.6 832.3C1310.4 831.7 1314.2 826.4 1319.6 826.0C1325.0 825.6 1331.2 831.5 1337.0 829.8C1342.8 828.1 1347.4 823.5 1354.5 816.0C1361.6 808.5 1373.7 789.7 1379.5 784.9C1385.3 780.1 1384.5 784.1 1389.5 787.4C1394.5 790.7 1404.0 799.0 1409.4 804.8C1414.8 810.6 1417.7 820.4 1421.9 822.3C1426.1 824.2 1429.8 818.7 1434.4 816.0C1439.0 813.3 1445.5 808.2 1449.4 806.1C1453.3 804.0 1456.6 804.0 1458.0 803.6" fill="none" stroke="#ffff00" stroke-width="1.1" stroke-linejoin="round" /><path d="M5.0 831.2C8.1 832.5 18.7 838.9 23.7 838.7C28.7 838.5 30.2 833.3 35.0 830.0C39.8 826.7 46.7 819.3 52.5 818.7C58.3 818.1 65.8 825.2 70.0 826.2C74.2 827.2 74.2 828.5 77.5 825.0C80.8 821.5 86.2 808.8 90.0 805.0C93.8 801.2 96.2 802.1 100.0 802.5C103.8 802.9 108.3 808.8 112.5 807.5C116.7 806.2 121.2 796.7 125.0 795.0C128.8 793.3 130.8 799.4 135.0 797.5C139.2 795.6 145.0 787.5 150.0 783.7C155.0 780.0 160.8 777.3 165.0 775.0C169.2 772.7 172.5 773.3 175.0 770.0C177.5 766.7 177.9 759.4 180.0 755.0C182.1 750.6 185.4 744.5 187.5 743.7C189.6 742.9 190.4 744.0 192.5 750.0C194.6 756.0 197.5 772.9 200.0 780.0C202.5 787.1 204.6 784.6 207.5 792.5C210.4 800.4 214.6 820.0 217.5 827.5C220.4 835.0 221.7 837.1 225.0 837.5C228.3 837.9 233.3 834.6 237.5 830.0C241.7 825.4 246.2 812.1 250.0 810.0C253.8 807.9 256.7 816.0 260.0 817.5C263.3 819.0 267.1 816.2 270.0 818.7C272.9 821.2 274.2 829.0 277.5 832.5C280.8 836.0 286.2 838.3 290.0 840.0C293.8 841.7 296.2 836.7 300.0 842.5C303.8 848.3 307.9 873.1 312.5 875.0C317.1 876.9 323.3 856.0 327.5 853.7C331.7 851.4 334.2 857.9 337.5 861.2C340.8 864.5 344.6 872.2 347.5 873.7C350.4 875.2 351.7 876.2 355.0 870.0C358.3 863.8 364.2 845.4 367.5 836.2C370.8 827.0 371.7 820.6 375.0 815.0C378.3 809.4 383.8 806.2 387.5 802.5C391.2 798.8 394.6 793.3 397.5 792.5C400.4 791.7 402.1 794.6 405.0 797.5C407.9 800.4 411.2 804.6 415.0 810.0C418.8 815.4 423.8 823.3 427.5 830.0C431.2 836.7 434.6 843.5 437.5 850.0C440.4 856.5 441.7 865.2 445.0 868.7C448.3 872.2 453.3 871.4 457.5 871.2C461.7 871.0 466.7 865.2 470.0 867.5C473.3 869.8 474.2 883.3 477.5 885.0C480.8 886.7 485.4 882.5 490.0 877.5C494.6 872.5 500.4 861.2 505.0 855.0C509.6 848.8 513.3 842.1 517.5 840.0C521.7 837.9 526.2 841.0 530.0 842.5C533.8 844.0 536.7 849.5 540.0 848.7C543.3 847.9 545.8 837.7 550.0 837.5C554.2 837.3 560.8 844.2 565.0 847.5C569.2 850.8 571.7 853.5 575.0 857.5C578.3 861.5 580.8 870.8 585.0 871.2C589.2 871.6 595.0 865.6 600.0 860.0C605.0 854.4 610.8 843.3 615.0 837.5C619.2 831.7 621.7 828.1 625.0 825.0C628.3 821.9 631.7 817.9 635.0 818.7C638.3 819.5 641.7 824.8 645.0 830.0C648.3 835.2 651.2 846.2 655.0 850.0C658.8 853.8 662.9 849.6 667.5 852.5C672.1 855.4 678.3 863.3 682.5 867.5C686.7 871.7 688.8 877.9 692.5 877.5C696.2 877.1 700.8 867.5 705.0 865.0C709.2 862.5 712.9 862.3 717.5 862.5C722.1 862.7 727.1 869.1 732.5 866.2C737.9 863.3 745.8 849.2 750.0 845.0C754.2 840.8 754.2 840.0 757.5 841.2C760.8 842.5 766.2 848.1 770.0 852.5C773.8 856.9 775.8 865.4 780.0 867.5C784.2 869.6 790.8 867.5 795.0 865.0C799.2 862.5 800.0 857.9 805.0 852.5C810.0 847.1 819.2 837.5 825.0 832.5C830.8 827.5 835.8 822.5 840.0 822.5C844.2 822.5 846.7 830.4 850.0 832.5C853.3 834.6 855.0 834.8 860.0 835.0C865.0 835.2 874.2 832.5 880.0 833.7C885.8 835.0 890.8 840.2 895.0 842.5C899.2 844.8 901.7 842.9 905.0 847.5C908.3 852.1 911.7 865.8 915.0 870.0C918.3 874.2 920.8 872.7 925.0 872.5C929.2 872.3 936.2 867.9 940.0 868.7C943.8 869.5 943.8 876.9 947.5 877.5C951.2 878.1 958.8 874.0 962.5 872.5C966.2 871.0 966.7 875.0 970.0 868.7C973.3 862.5 979.2 843.5 982.5 835.0C985.8 826.5 987.1 825.0 990.0 817.5C992.9 810.0 995.8 795.0 1000.0 790.0C1004.2 785.0 1010.4 789.2 1015.0 787.5C1019.6 785.8 1022.5 779.2 1027.5 780.0C1032.5 780.8 1040.0 786.9 1045.0 792.5C1050.0 798.1 1052.9 809.5 1057.5 813.7C1062.1 817.9 1067.9 814.8 1072.5 817.5C1077.1 820.2 1080.4 825.4 1085.0 830.0C1089.6 834.6 1095.8 843.3 1100.0 845.0C1104.2 846.7 1105.8 837.3 1110.0 840.0C1114.2 842.7 1120.8 856.9 1125.0 861.0C1129.2 865.1 1131.2 861.0 1135.0 864.7C1138.8 868.4 1144.2 880.5 1147.5 883.4C1150.8 886.3 1151.7 885.1 1155.0 882.2C1158.3 879.3 1162.8 870.6 1167.4 866.0C1172.0 861.4 1177.4 858.5 1182.4 854.7C1187.4 851.0 1192.4 847.6 1197.4 843.5C1202.4 839.4 1207.3 833.9 1212.3 829.8C1217.3 825.6 1222.3 819.0 1227.3 818.6C1232.3 818.2 1237.3 822.9 1242.3 827.3C1247.3 831.7 1252.2 844.0 1257.2 844.8C1262.2 845.6 1267.2 835.0 1272.2 832.3C1277.2 829.6 1283.0 828.0 1287.2 828.6C1291.4 829.2 1293.1 836.4 1297.2 836.0C1301.3 835.6 1307.5 827.0 1312.1 826.0C1316.7 825.0 1320.4 829.2 1324.6 829.8C1328.8 830.4 1332.8 832.1 1337.0 829.8C1341.2 827.5 1345.3 821.4 1349.5 816.0C1353.7 810.6 1357.8 804.4 1362.0 797.4C1366.2 790.4 1370.8 775.6 1374.5 773.7C1378.2 771.8 1381.2 782.4 1384.5 786.1C1387.8 789.8 1390.8 790.9 1394.5 796.1C1398.2 801.3 1402.8 811.7 1407.0 817.3C1411.2 822.9 1416.1 829.8 1419.4 829.8C1422.7 829.8 1423.7 821.5 1427.0 817.3C1430.3 813.1 1435.7 807.1 1439.4 804.8C1443.1 802.5 1446.1 805.0 1449.4 803.6C1452.7 802.2 1457.7 797.4 1459.3 796.1" fill="none" stroke="#ffffff" stroke-width="1.1" stroke-linejoin="round" /><line x1="193" y1="42" x2="1467.0" y2="81.0" stroke="#ffff00" stroke-width="1.3" stroke-dasharray="6 4"/><line x1="193" y1="42" x2="1467.0" y2="118.9" stroke="#ffff00" stroke-width="1.3" stroke-dasharray="6 4"/><line x1="193" y1="42" x2="1467.0" y2="145.7" stroke="#ffff00" stroke-width="1.3" stroke-dasharray="6 4"/><line x1="193" y1="42" x2="1467.0" y2="197.0" stroke="#ffff00" stroke-width="1.3" stroke-dasharray="6 4"/><line x1="193" y1="42" x2="1155.7" y2="519.0" stroke="#ffff00" stroke-width="1.3" stroke-dasharray="6 4"/><line x1="193" y1="42" x2="833.9" y2="519.0" stroke="#ffff00" stroke-width="1.3" stroke-dasharray="6 4"/><line x1="193" y1="42" x2="670.0" y2="519.0" stroke="#ffff00" stroke-width="1.3" stroke-dasharray="6 4"/><line x1="193" y1="42" x2="428.4" y2="519.0" stroke="#ffff00" stroke-width="1.3" stroke-dasharray="6 4"/><line x1="193" y1="41" x2="1467.0" y2="356.7" stroke="#ffff00" stroke-width="2" /><rect x="192" y="41" width="1276" height="2" fill="#ffff00"/><rect x="192" y="41" width="2" height="478" fill="#ffff00"/><rect x="2" y="243.2" width="1465" height="2" fill="#ffff00"/><rect x="2" y="330.4" width="1465" height="2" fill="#ffff00"/><text x="258" y="165" font-family='"Liberation Sans", sans-serif' font-size="15" fill="#ffff00" textLength="23" lengthAdjust="spacingAndGlyphs">1:8</text><text x="327.5" y="165" font-family='"Liberation Sans", sans-serif' font-size="15" fill="#ffff00" textLength="23" lengthAdjust="spacingAndGlyphs">1:4</text><text x="370" y="165" font-family='"Liberation Sans", sans-serif' font-size="15" fill="#ffff00" textLength="23" lengthAdjust="spacingAndGlyphs">1:3</text><text x="460" y="165" font-family='"Liberation Sans", sans-serif' font-size="15" fill="#ffff00" textLength="23" lengthAdjust="spacingAndGlyphs">1:2</text><text x="730.5" y="165" font-family='"Liberation Sans", sans-serif' font-size="15" fill="#ffff00" textLength="23" lengthAdjust="spacingAndGlyphs">1:1</text><text x="730.5" y="66" font-family='"Liberation Sans", sans-serif' font-size="15" fill="#ffff00" textLength="23" lengthAdjust="spacingAndGlyphs">4:1</text><text x="730.5" y="73" font-family='"Liberation Sans", sans-serif' font-size="15" fill="#ffff00" textLength="23" lengthAdjust="spacingAndGlyphs">3:1</text><text x="730.5" y="97" font-family='"Liberation Sans", sans-serif' font-size="15" fill="#ffff00" textLength="23" lengthAdjust="spacingAndGlyphs">2:1</text><circle cx="190.8" cy="42.5" r="2.8" fill="none" stroke="#ffffff" stroke-width="1"/><path d="M202 47 L207 44 M202 47 L207 50 M202 47 L212 47" stroke="#ffffff" stroke-width="1" fill="none"/><text x="213" y="56" font-family='"Liberation Sans", sans-serif' font-size="16" fill="#ffffff" textLength="41" lengthAdjust="spacingAndGlyphs">29.60</text><path d="M1145 512 L1150 509 M1145 512 L1150 515 M1145 512 L1160 512" stroke="#ffffff" stroke-width="1.2" fill="none"/><text x="1163" y="519" font-family='"Liberation Sans", sans-serif' font-size="17" fill="#ffffff" textLength="35" lengthAdjust="spacingAndGlyphs">8.77</text><text x="3.5" y="30" font-family='"Liberation Sans", sans-serif' font-size="18" fill="#dcdcdc" textLength="178" lengthAdjust="spacingAndGlyphs">三安光电(日线.前复权)</text><text x="188" y="30" font-family='"Liberation Sans", sans-serif' font-size="18" fill="#dcdcdc" textLength="113.5" lengthAdjust="spacingAndGlyphs">EXPMA(12,50)</text><text x="311.5" y="30" font-family='"Liberation Sans", sans-serif' font-size="18" fill="#dcdcdc" textLength="98.5" lengthAdjust="spacingAndGlyphs">EXP1: 15.63</text><text x="420" y="30" font-family='"Liberation Sans", sans-serif' font-size="18" fill="#ffff00" textLength="98.5" lengthAdjust="spacingAndGlyphs">EXP2: 14.12</text><text x="2.7" y="557" font-family='"Liberation Sans", sans-serif' font-size="18" fill="#dcdcdc" textLength="180" lengthAdjust="spacingAndGlyphs">VOLUME: 2650319.75</text><text x="191.7" y="557" font-family='"Liberation Sans", sans-serif' font-size="18" fill="#dcdcdc" textLength="141" lengthAdjust="spacingAndGlyphs">MA5: 1864689.63</text><text x="341.7" y="557" font-family='"Liberation Sans", sans-serif' font-size="18" fill="#ffff00" textLength="151" lengthAdjust="spacingAndGlyphs">MA10: 1498017.88</text><text x="2.7" y="734" font-family='"Liberation Sans", sans-serif' font-size="18" fill="#dcdcdc" textLength="123" lengthAdjust="spacingAndGlyphs">MACD(12,26,9)</text><text x="135" y="734" font-family='"Liberation Sans", sans-serif' font-size="18" fill="#dcdcdc" textLength="70" lengthAdjust="spacingAndGlyphs">DIF: 0.71</text><text x="216" y="734" font-family='"Liberation Sans", sans-serif' font-size="18" fill="#ffff00" textLength="79" lengthAdjust="spacingAndGlyphs">DEA: 0.53</text><text x="304" y="734" font-family='"Liberation Sans", sans-serif' font-size="18" fill="#ff00ff" textLength="94" lengthAdjust="spacingAndGlyphs">MACD: 0.36</text><rect x="1113.3" y="37.3" width="4.8" height="3.8" fill="#ff00ff"/><rect x="1134.6" y="37.3" width="8.5" height="3.8" fill="#ff00ff"/><rect x="1145.2" y="37.3" width="22.1" height="3.8" fill="#ff00ff"/><rect x="1170.5" y="37.3" width="10.1" height="3.8" fill="#ff00ff"/><rect x="1184.1" y="37.3" width="8.5" height="3.8" fill="#ff00ff"/><rect x="1201.9" y="37.3" width="4.6" height="3.8" fill="#ff00ff"/><rect x="1212.6" y="37.3" width="8.8" height="3.8" fill="#ff00ff"/><rect x="1237.9" y="37.3" width="4.5" height="3.8" fill="#ff00ff"/><rect x="1258.9" y="37.3" width="11.7" height="3.8" fill="#ff00ff"/><rect x="1272.7" y="37.3" width="7.2" height="3.8" fill="#ff00ff"/><rect x="1308.4" y="37.3" width="4.5" height="3.8" fill="#ff00ff"/><rect x="1314.5" y="37.3" width="5.9" height="3.8" fill="#ff00ff"/><rect x="1322.0" y="37.3" width="7.4" height="3.8" fill="#ff00ff"/><rect x="1336.9" y="37.3" width="4.5" height="3.8" fill="#ff00ff"/><rect x="1343.0" y="37.3" width="4.5" height="3.8" fill="#ff00ff"/><rect x="1350.5" y="37.3" width="9.0" height="3.8" fill="#ff00ff"/><rect x="1365.6" y="37.3" width="14.7" height="3.8" fill="#ff00ff"/><rect x="1382.1" y="37.3" width="4.6" height="3.8" fill="#ff00ff"/><rect x="1396.8" y="37.3" width="4.5" height="3.8" fill="#ff00ff"/><rect x="1402.9" y="37.3" width="4.5" height="3.8" fill="#ff00ff"/><rect x="1420.7" y="37.3" width="12.0" height="3.8" fill="#ff00ff"/><rect x="1443.4" y="37.3" width="4.5" height="3.8" fill="#ff00ff"/><rect x="1449.5" y="37.3" width="12.0" height="3.8" fill="#ff00ff"/><path d="M1435 17.5 L1443 25.5 L1435 33.5 L1427 25.5 Z" fill="none" stroke="#a00000" stroke-width="1.3"/><rect x="1450" y="18" width="13.5" height="15" fill="none" stroke="#a00000" stroke-width="1.3"/><rect x="1458.2" y="18" width="1.3" height="15" fill="#a00000"/><path d="M1442 212 H1448 V220 H1453 L1445 229 L1437 220 H1442 Z" fill="#00ff00"/><rect x="1469" y="230.4" width="31" height="24" fill="#0000ff" stroke="#8c0000" stroke-width="1"/><text x="1470" y="248" font-family='"Liberation Sans", sans-serif' font-size="17" fill="#ffffff" textLength="32" lengthAdjust="spacingAndGlyphs">20.1</text><path d="M553.5 526 L557.5 521 L561.5 526 Z" fill="#ff0000"/><text x="553.0" y="538" font-family='"Liberation Sans", sans-serif' font-size="14" font-weight="bold" fill="#ff0000">S</text><path d="M1317 526 L1321 521 L1325 526 Z" fill="#ff0000"/><text x="1316.5" y="538" font-family='"Liberation Sans", sans-serif' font-size="14" font-weight="bold" fill="#ff0000">S</text><path d="M2 449 L14 465 L14 511 L2 529 Z" fill="#3a3a3a" stroke="#6a6a6a" stroke-width="1.2"/><path d="M3.5 481 L11 488.5 L3.5 496 Z" fill="#e8a000"/></svg>
</body></html>
